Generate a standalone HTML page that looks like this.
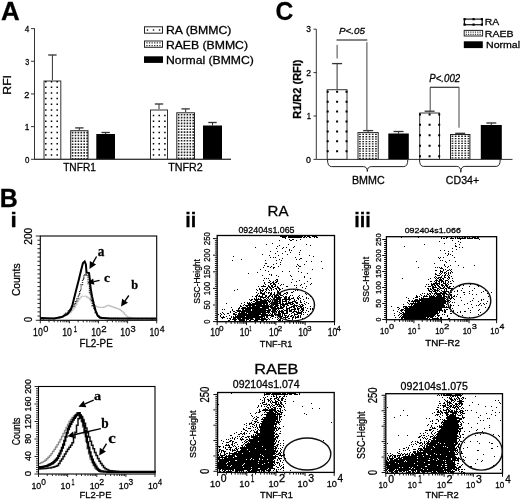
<!DOCTYPE html>
<html><head><meta charset="utf-8"><style>
html,body{margin:0;padding:0;background:#fff;}
svg{display:block;}
text{stroke:#000;stroke-width:0.28px;}
</style></head><body>
<svg width="520" height="499" viewBox="0 0 520 499">
<defs><filter id="soft" x="0" y="0" width="520" height="499" filterUnits="userSpaceOnUse"><feGaussianBlur stdDeviation="0.4"/></filter></defs>
<rect width="520" height="499" fill="#fff"/>
<g filter="url(#soft)">
<text x="0.95" y="19.90" font-family='"Liberation Sans", sans-serif' font-size="26.60" font-weight="bold" font-style="normal" textLength="18.73" lengthAdjust="spacingAndGlyphs" fill="#000" >A</text>
<line x1="34.5" y1="28.3" x2="34.5" y2="159.3" stroke="#333" stroke-width="1"/>
<line x1="34.3" y1="159.3" x2="231" y2="159.3" stroke="#333" stroke-width="1"/>
<line x1="31.0" y1="159.3" x2="34.5" y2="159.3" stroke="#333" stroke-width="1"/>
<line x1="31.0" y1="126.63000000000001" x2="34.5" y2="126.63000000000001" stroke="#333" stroke-width="1"/>
<line x1="31.0" y1="93.96000000000001" x2="34.5" y2="93.96000000000001" stroke="#333" stroke-width="1"/>
<line x1="31.0" y1="61.290000000000006" x2="34.5" y2="61.290000000000006" stroke="#333" stroke-width="1"/>
<line x1="31.0" y1="28.620000000000005" x2="34.5" y2="28.620000000000005" stroke="#333" stroke-width="1"/>
<text x="24.89" y="162.90" font-family='"Liberation Sans", sans-serif' font-size="8.72" font-weight="normal" font-style="normal" textLength="4.42" lengthAdjust="spacingAndGlyphs" fill="#000" >0</text>
<text x="24.76" y="130.23" font-family='"Liberation Sans", sans-serif' font-size="8.72" font-weight="normal" font-style="normal" textLength="4.64" lengthAdjust="spacingAndGlyphs" fill="#000" >1</text>
<text x="24.34" y="97.56" font-family='"Liberation Sans", sans-serif' font-size="8.72" font-weight="normal" font-style="normal" textLength="5.13" lengthAdjust="spacingAndGlyphs" fill="#000" >2</text>
<text x="25.33" y="64.89" font-family='"Liberation Sans", sans-serif' font-size="8.72" font-weight="normal" font-style="normal" textLength="3.99" lengthAdjust="spacingAndGlyphs" fill="#000" >3</text>
<text x="24.71" y="32.22" font-family='"Liberation Sans", sans-serif' font-size="8.72" font-weight="normal" font-style="normal" textLength="4.53" lengthAdjust="spacingAndGlyphs" fill="#000" >4</text>
<text transform="translate(10.50,94.71) rotate(-90)" x="0" y="0" font-family='"Liberation Sans", sans-serif' font-size="10.76" font-weight="normal" font-style="normal" textLength="19.74" lengthAdjust="spacingAndGlyphs" fill="#000">RFI</text>
<line x1="52.4" y1="55.0" x2="52.4" y2="80.5" stroke="#333" stroke-width="1"/>
<line x1="48.199999999999996" y1="55.0" x2="56.6" y2="55.0" stroke="#333" stroke-width="1.3"/>
<rect x="43.50" y="80.50" width="17.80" height="78.80" fill="#fff" stroke="none" stroke-width="1"/>
<rect x="44.00" y="81.00" width="16.80" height="78.30" fill="none" stroke="#333" stroke-width="1"/>
<path d="M45.05 154.35h1.5v1.5h-1.5zM45.05 148.70h1.5v1.5h-1.5zM45.05 143.05h1.5v1.5h-1.5zM45.05 137.40h1.5v1.5h-1.5zM45.05 131.75h1.5v1.5h-1.5zM45.05 126.10h1.5v1.5h-1.5zM45.05 120.45h1.5v1.5h-1.5zM45.05 114.80h1.5v1.5h-1.5zM45.05 109.15h1.5v1.5h-1.5zM45.05 103.50h1.5v1.5h-1.5zM45.05 97.85h1.5v1.5h-1.5zM45.05 92.20h1.5v1.5h-1.5zM45.05 86.55h1.5v1.5h-1.5zM45.05 80.90h1.5v1.5h-1.5zM50.75 154.35h1.5v1.5h-1.5zM50.75 148.70h1.5v1.5h-1.5zM50.75 143.05h1.5v1.5h-1.5zM50.75 137.40h1.5v1.5h-1.5zM50.75 131.75h1.5v1.5h-1.5zM50.75 126.10h1.5v1.5h-1.5zM50.75 120.45h1.5v1.5h-1.5zM50.75 114.80h1.5v1.5h-1.5zM50.75 109.15h1.5v1.5h-1.5zM50.75 103.50h1.5v1.5h-1.5zM50.75 97.85h1.5v1.5h-1.5zM50.75 92.20h1.5v1.5h-1.5zM50.75 86.55h1.5v1.5h-1.5zM50.75 80.90h1.5v1.5h-1.5zM56.45 154.35h1.5v1.5h-1.5zM56.45 148.70h1.5v1.5h-1.5zM56.45 143.05h1.5v1.5h-1.5zM56.45 137.40h1.5v1.5h-1.5zM56.45 131.75h1.5v1.5h-1.5zM56.45 126.10h1.5v1.5h-1.5zM56.45 120.45h1.5v1.5h-1.5zM56.45 114.80h1.5v1.5h-1.5zM56.45 109.15h1.5v1.5h-1.5zM56.45 103.50h1.5v1.5h-1.5zM56.45 97.85h1.5v1.5h-1.5zM56.45 92.20h1.5v1.5h-1.5zM56.45 86.55h1.5v1.5h-1.5zM56.45 80.90h1.5v1.5h-1.5z" fill="#000"/>
<line x1="79.35" y1="127.9" x2="79.35" y2="130.2" stroke="#333" stroke-width="1"/>
<line x1="75.14999999999999" y1="127.9" x2="83.55" y2="127.9" stroke="#333" stroke-width="1.3"/>
<rect x="70.20" y="130.20" width="18.30" height="29.10" fill="#fff" stroke="none" stroke-width="1"/>
<path d="M71.80 131.80h1.6v1.6h-1.6zM74.70 131.80h1.6v1.6h-1.6zM77.60 131.80h1.6v1.6h-1.6zM80.50 131.80h1.6v1.6h-1.6zM83.40 131.80h1.6v1.6h-1.6zM86.30 131.80h1.6v1.6h-1.6zM71.80 134.70h1.6v1.6h-1.6zM74.70 134.70h1.6v1.6h-1.6zM77.60 134.70h1.6v1.6h-1.6zM80.50 134.70h1.6v1.6h-1.6zM83.40 134.70h1.6v1.6h-1.6zM86.30 134.70h1.6v1.6h-1.6zM71.80 137.60h1.6v1.6h-1.6zM74.70 137.60h1.6v1.6h-1.6zM77.60 137.60h1.6v1.6h-1.6zM80.50 137.60h1.6v1.6h-1.6zM83.40 137.60h1.6v1.6h-1.6zM86.30 137.60h1.6v1.6h-1.6zM71.80 140.50h1.6v1.6h-1.6zM74.70 140.50h1.6v1.6h-1.6zM77.60 140.50h1.6v1.6h-1.6zM80.50 140.50h1.6v1.6h-1.6zM83.40 140.50h1.6v1.6h-1.6zM86.30 140.50h1.6v1.6h-1.6zM71.80 143.40h1.6v1.6h-1.6zM74.70 143.40h1.6v1.6h-1.6zM77.60 143.40h1.6v1.6h-1.6zM80.50 143.40h1.6v1.6h-1.6zM83.40 143.40h1.6v1.6h-1.6zM86.30 143.40h1.6v1.6h-1.6zM71.80 146.30h1.6v1.6h-1.6zM74.70 146.30h1.6v1.6h-1.6zM77.60 146.30h1.6v1.6h-1.6zM80.50 146.30h1.6v1.6h-1.6zM83.40 146.30h1.6v1.6h-1.6zM86.30 146.30h1.6v1.6h-1.6zM71.80 149.20h1.6v1.6h-1.6zM74.70 149.20h1.6v1.6h-1.6zM77.60 149.20h1.6v1.6h-1.6zM80.50 149.20h1.6v1.6h-1.6zM83.40 149.20h1.6v1.6h-1.6zM86.30 149.20h1.6v1.6h-1.6zM71.80 152.10h1.6v1.6h-1.6zM74.70 152.10h1.6v1.6h-1.6zM77.60 152.10h1.6v1.6h-1.6zM80.50 152.10h1.6v1.6h-1.6zM83.40 152.10h1.6v1.6h-1.6zM86.30 152.10h1.6v1.6h-1.6zM71.80 155.00h1.6v1.6h-1.6zM74.70 155.00h1.6v1.6h-1.6zM77.60 155.00h1.6v1.6h-1.6zM80.50 155.00h1.6v1.6h-1.6zM83.40 155.00h1.6v1.6h-1.6zM86.30 155.00h1.6v1.6h-1.6zM71.80 157.90h1.6v1.6h-1.6zM74.70 157.90h1.6v1.6h-1.6zM77.60 157.90h1.6v1.6h-1.6zM80.50 157.90h1.6v1.6h-1.6zM83.40 157.90h1.6v1.6h-1.6zM86.30 157.90h1.6v1.6h-1.6z" fill="#222"/>
<rect x="70.70" y="130.70" width="17.30" height="28.60" fill="none" stroke="#222" stroke-width="1"/>
<line x1="105.65" y1="132.5" x2="105.65" y2="134.0" stroke="#333" stroke-width="1"/>
<line x1="101.45" y1="132.5" x2="109.85000000000001" y2="132.5" stroke="#333" stroke-width="1.3"/>
<rect x="96.30" y="134.00" width="18.70" height="25.30" fill="#000" stroke="none" stroke-width="1"/>
<line x1="159.0" y1="104.0" x2="159.0" y2="109.5" stroke="#333" stroke-width="1"/>
<line x1="154.8" y1="104.0" x2="163.2" y2="104.0" stroke="#333" stroke-width="1.3"/>
<rect x="150.00" y="109.50" width="18.00" height="49.80" fill="#fff" stroke="none" stroke-width="1"/>
<rect x="150.50" y="110.00" width="17.00" height="49.30" fill="none" stroke="#333" stroke-width="1"/>
<path d="M152.75 154.35h1.5v1.5h-1.5zM152.75 148.70h1.5v1.5h-1.5zM152.75 143.05h1.5v1.5h-1.5zM152.75 137.40h1.5v1.5h-1.5zM152.75 131.75h1.5v1.5h-1.5zM152.75 126.10h1.5v1.5h-1.5zM152.75 120.45h1.5v1.5h-1.5zM152.75 114.80h1.5v1.5h-1.5zM158.45 154.35h1.5v1.5h-1.5zM158.45 148.70h1.5v1.5h-1.5zM158.45 143.05h1.5v1.5h-1.5zM158.45 137.40h1.5v1.5h-1.5zM158.45 131.75h1.5v1.5h-1.5zM158.45 126.10h1.5v1.5h-1.5zM158.45 120.45h1.5v1.5h-1.5zM158.45 114.80h1.5v1.5h-1.5zM164.15 154.35h1.5v1.5h-1.5zM164.15 148.70h1.5v1.5h-1.5zM164.15 143.05h1.5v1.5h-1.5zM164.15 137.40h1.5v1.5h-1.5zM164.15 131.75h1.5v1.5h-1.5zM164.15 126.10h1.5v1.5h-1.5zM164.15 120.45h1.5v1.5h-1.5zM164.15 114.80h1.5v1.5h-1.5z" fill="#000"/>
<line x1="185.65" y1="108.9" x2="185.65" y2="112.3" stroke="#333" stroke-width="1"/>
<line x1="181.45000000000002" y1="108.9" x2="189.85" y2="108.9" stroke="#333" stroke-width="1.3"/>
<rect x="176.30" y="112.30" width="18.70" height="47.00" fill="#fff" stroke="none" stroke-width="1"/>
<path d="M177.90 113.90h1.6v1.6h-1.6zM180.80 113.90h1.6v1.6h-1.6zM183.70 113.90h1.6v1.6h-1.6zM186.60 113.90h1.6v1.6h-1.6zM189.50 113.90h1.6v1.6h-1.6zM192.40 113.90h1.6v1.6h-1.6zM177.90 116.80h1.6v1.6h-1.6zM180.80 116.80h1.6v1.6h-1.6zM183.70 116.80h1.6v1.6h-1.6zM186.60 116.80h1.6v1.6h-1.6zM189.50 116.80h1.6v1.6h-1.6zM192.40 116.80h1.6v1.6h-1.6zM177.90 119.70h1.6v1.6h-1.6zM180.80 119.70h1.6v1.6h-1.6zM183.70 119.70h1.6v1.6h-1.6zM186.60 119.70h1.6v1.6h-1.6zM189.50 119.70h1.6v1.6h-1.6zM192.40 119.70h1.6v1.6h-1.6zM177.90 122.60h1.6v1.6h-1.6zM180.80 122.60h1.6v1.6h-1.6zM183.70 122.60h1.6v1.6h-1.6zM186.60 122.60h1.6v1.6h-1.6zM189.50 122.60h1.6v1.6h-1.6zM192.40 122.60h1.6v1.6h-1.6zM177.90 125.50h1.6v1.6h-1.6zM180.80 125.50h1.6v1.6h-1.6zM183.70 125.50h1.6v1.6h-1.6zM186.60 125.50h1.6v1.6h-1.6zM189.50 125.50h1.6v1.6h-1.6zM192.40 125.50h1.6v1.6h-1.6zM177.90 128.40h1.6v1.6h-1.6zM180.80 128.40h1.6v1.6h-1.6zM183.70 128.40h1.6v1.6h-1.6zM186.60 128.40h1.6v1.6h-1.6zM189.50 128.40h1.6v1.6h-1.6zM192.40 128.40h1.6v1.6h-1.6zM177.90 131.30h1.6v1.6h-1.6zM180.80 131.30h1.6v1.6h-1.6zM183.70 131.30h1.6v1.6h-1.6zM186.60 131.30h1.6v1.6h-1.6zM189.50 131.30h1.6v1.6h-1.6zM192.40 131.30h1.6v1.6h-1.6zM177.90 134.20h1.6v1.6h-1.6zM180.80 134.20h1.6v1.6h-1.6zM183.70 134.20h1.6v1.6h-1.6zM186.60 134.20h1.6v1.6h-1.6zM189.50 134.20h1.6v1.6h-1.6zM192.40 134.20h1.6v1.6h-1.6zM177.90 137.10h1.6v1.6h-1.6zM180.80 137.10h1.6v1.6h-1.6zM183.70 137.10h1.6v1.6h-1.6zM186.60 137.10h1.6v1.6h-1.6zM189.50 137.10h1.6v1.6h-1.6zM192.40 137.10h1.6v1.6h-1.6zM177.90 140.00h1.6v1.6h-1.6zM180.80 140.00h1.6v1.6h-1.6zM183.70 140.00h1.6v1.6h-1.6zM186.60 140.00h1.6v1.6h-1.6zM189.50 140.00h1.6v1.6h-1.6zM192.40 140.00h1.6v1.6h-1.6zM177.90 142.90h1.6v1.6h-1.6zM180.80 142.90h1.6v1.6h-1.6zM183.70 142.90h1.6v1.6h-1.6zM186.60 142.90h1.6v1.6h-1.6zM189.50 142.90h1.6v1.6h-1.6zM192.40 142.90h1.6v1.6h-1.6zM177.90 145.80h1.6v1.6h-1.6zM180.80 145.80h1.6v1.6h-1.6zM183.70 145.80h1.6v1.6h-1.6zM186.60 145.80h1.6v1.6h-1.6zM189.50 145.80h1.6v1.6h-1.6zM192.40 145.80h1.6v1.6h-1.6zM177.90 148.70h1.6v1.6h-1.6zM180.80 148.70h1.6v1.6h-1.6zM183.70 148.70h1.6v1.6h-1.6zM186.60 148.70h1.6v1.6h-1.6zM189.50 148.70h1.6v1.6h-1.6zM192.40 148.70h1.6v1.6h-1.6zM177.90 151.60h1.6v1.6h-1.6zM180.80 151.60h1.6v1.6h-1.6zM183.70 151.60h1.6v1.6h-1.6zM186.60 151.60h1.6v1.6h-1.6zM189.50 151.60h1.6v1.6h-1.6zM192.40 151.60h1.6v1.6h-1.6zM177.90 154.50h1.6v1.6h-1.6zM180.80 154.50h1.6v1.6h-1.6zM183.70 154.50h1.6v1.6h-1.6zM186.60 154.50h1.6v1.6h-1.6zM189.50 154.50h1.6v1.6h-1.6zM192.40 154.50h1.6v1.6h-1.6zM177.90 157.40h1.6v1.6h-1.6zM180.80 157.40h1.6v1.6h-1.6zM183.70 157.40h1.6v1.6h-1.6zM186.60 157.40h1.6v1.6h-1.6zM189.50 157.40h1.6v1.6h-1.6zM192.40 157.40h1.6v1.6h-1.6z" fill="#222"/>
<rect x="176.80" y="112.80" width="17.70" height="46.50" fill="none" stroke="#222" stroke-width="1"/>
<line x1="212.5" y1="122.5" x2="212.5" y2="125.5" stroke="#333" stroke-width="1"/>
<line x1="208.3" y1="122.5" x2="216.7" y2="122.5" stroke="#333" stroke-width="1.3"/>
<rect x="203.00" y="125.50" width="19.00" height="33.80" fill="#000" stroke="none" stroke-width="1"/>
<line x1="34.3" y1="159.3" x2="231" y2="159.3" stroke="#333" stroke-width="1"/>
<text x="63.17" y="171.20" font-family='"Liberation Sans", sans-serif' font-size="11.05" font-weight="normal" font-style="normal" textLength="32.72" lengthAdjust="spacingAndGlyphs" fill="#000" >TNFR1</text>
<text x="168.36" y="171.20" font-family='"Liberation Sans", sans-serif' font-size="11.05" font-weight="normal" font-style="normal" textLength="34.38" lengthAdjust="spacingAndGlyphs" fill="#000" >TNFR2</text>
<rect x="144.50" y="26.80" width="18.00" height="6.40" fill="#fff" stroke="#222" stroke-width="1"/>
<rect x="146.80" y="29.30" width="1.40" height="1.40" fill="#111" stroke="none" stroke-width="1"/>
<rect x="152.80" y="29.30" width="1.40" height="1.40" fill="#111" stroke="none" stroke-width="1"/>
<rect x="158.80" y="29.30" width="1.40" height="1.40" fill="#111" stroke="none" stroke-width="1"/>
<rect x="144.50" y="41.00" width="18.00" height="6.30" fill="#fff" stroke="#222" stroke-width="1"/>
<path d="M146.30 42.30h1.3v1.3h-1.3zM148.90 42.30h1.3v1.3h-1.3zM151.50 42.30h1.3v1.3h-1.3zM154.10 42.30h1.3v1.3h-1.3zM156.70 42.30h1.3v1.3h-1.3zM159.30 42.30h1.3v1.3h-1.3zM146.30 44.90h1.3v1.3h-1.3zM148.90 44.90h1.3v1.3h-1.3zM151.50 44.90h1.3v1.3h-1.3zM154.10 44.90h1.3v1.3h-1.3zM156.70 44.90h1.3v1.3h-1.3zM159.30 44.90h1.3v1.3h-1.3z" fill="#333"/>
<rect x="144.00" y="56.30" width="19.00" height="6.60" fill="#000" stroke="none" stroke-width="1"/>
<text x="165.90" y="34.40" font-family='"Liberation Sans", sans-serif' font-size="10.61" font-weight="normal" font-style="normal" textLength="65.45" lengthAdjust="spacingAndGlyphs" fill="#000" >RA (BMMC)</text>
<text x="165.90" y="48.80" font-family='"Liberation Sans", sans-serif' font-size="10.76" font-weight="normal" font-style="normal" textLength="82.06" lengthAdjust="spacingAndGlyphs" fill="#000" >RAEB (BMMC)</text>
<text x="165.90" y="64.30" font-family='"Liberation Sans", sans-serif' font-size="10.76" font-weight="normal" font-style="normal" textLength="87.95" lengthAdjust="spacingAndGlyphs" fill="#000" >Normal (BMMC)</text>
<text x="275.59" y="19.80" font-family='"Liberation Sans", sans-serif' font-size="26.16" font-weight="bold" font-style="normal" textLength="17.78" lengthAdjust="spacingAndGlyphs" fill="#000" >C</text>
<line x1="316.3" y1="29.2" x2="316.3" y2="159.4" stroke="#333" stroke-width="1"/>
<line x1="313.5" y1="159.4" x2="316.3" y2="159.4" stroke="#333" stroke-width="1"/>
<line x1="313.5" y1="116.0" x2="316.3" y2="116.0" stroke="#333" stroke-width="1"/>
<line x1="313.5" y1="72.60000000000001" x2="316.3" y2="72.60000000000001" stroke="#333" stroke-width="1"/>
<line x1="313.5" y1="29.200000000000017" x2="316.3" y2="29.200000000000017" stroke="#333" stroke-width="1"/>
<text x="306.06" y="162.60" font-family='"Liberation Sans", sans-serif' font-size="8.72" font-weight="normal" font-style="normal" textLength="4.89" lengthAdjust="spacingAndGlyphs" fill="#000" >0</text>
<text x="306.72" y="119.20" font-family='"Liberation Sans", sans-serif' font-size="8.72" font-weight="normal" font-style="normal" textLength="4.26" lengthAdjust="spacingAndGlyphs" fill="#000" >1</text>
<text x="306.16" y="75.80" font-family='"Liberation Sans", sans-serif' font-size="8.72" font-weight="normal" font-style="normal" textLength="4.88" lengthAdjust="spacingAndGlyphs" fill="#000" >2</text>
<text x="306.28" y="32.40" font-family='"Liberation Sans", sans-serif' font-size="8.72" font-weight="normal" font-style="normal" textLength="4.69" lengthAdjust="spacingAndGlyphs" fill="#000" >3</text>
<text transform="translate(300.80,118.74) rotate(-90)" x="0" y="0" font-family='"Liberation Sans", sans-serif' font-size="11.05" font-weight="bold" font-style="normal" textLength="59.28" lengthAdjust="spacingAndGlyphs" fill="#000">R1/R2 (RFI)</text>
<line x1="337.1" y1="63.6" x2="337.1" y2="89.2" stroke="#333" stroke-width="1"/>
<line x1="332.1" y1="63.6" x2="342.1" y2="63.6" stroke="#333" stroke-width="1.3"/>
<rect x="326.70" y="89.20" width="20.80" height="70.20" fill="#fff" stroke="none" stroke-width="1"/>
<rect x="327.20" y="89.70" width="19.80" height="69.70" fill="none" stroke="#333" stroke-width="1"/>
<path d="M326.70 150.30h2.0v2.0h-2.0zM326.70 140.37h2.0v2.0h-2.0zM326.70 130.44h2.0v2.0h-2.0zM326.70 120.51h2.0v2.0h-2.0zM326.70 110.58h2.0v2.0h-2.0zM326.70 100.65h2.0v2.0h-2.0zM326.70 90.72h2.0v2.0h-2.0zM336.10 150.30h2.0v2.0h-2.0zM336.10 140.37h2.0v2.0h-2.0zM336.10 130.44h2.0v2.0h-2.0zM336.10 120.51h2.0v2.0h-2.0zM336.10 110.58h2.0v2.0h-2.0zM336.10 100.65h2.0v2.0h-2.0zM336.10 90.72h2.0v2.0h-2.0zM345.50 150.30h2.0v2.0h-2.0zM345.50 140.37h2.0v2.0h-2.0zM345.50 130.44h2.0v2.0h-2.0zM345.50 120.51h2.0v2.0h-2.0zM345.50 110.58h2.0v2.0h-2.0zM345.50 100.65h2.0v2.0h-2.0zM345.50 90.72h2.0v2.0h-2.0z" fill="#000"/>
<line x1="368.1" y1="130.6" x2="368.1" y2="132.1" stroke="#333" stroke-width="1"/>
<line x1="363.1" y1="130.6" x2="373.1" y2="130.6" stroke="#333" stroke-width="1.3"/>
<rect x="357.50" y="132.10" width="21.20" height="27.30" fill="#fff" stroke="none" stroke-width="1"/>
<path d="M359.10 133.70h1.7v1.3h-1.7zM362.30 133.70h1.7v1.3h-1.7zM365.50 133.70h1.7v1.3h-1.7zM368.70 133.70h1.7v1.3h-1.7zM371.90 133.70h1.7v1.3h-1.7zM375.10 133.70h1.7v1.3h-1.7zM359.10 136.10h1.7v1.3h-1.7zM362.30 136.10h1.7v1.3h-1.7zM365.50 136.10h1.7v1.3h-1.7zM368.70 136.10h1.7v1.3h-1.7zM371.90 136.10h1.7v1.3h-1.7zM375.10 136.10h1.7v1.3h-1.7zM359.10 138.50h1.7v1.3h-1.7zM362.30 138.50h1.7v1.3h-1.7zM365.50 138.50h1.7v1.3h-1.7zM368.70 138.50h1.7v1.3h-1.7zM371.90 138.50h1.7v1.3h-1.7zM375.10 138.50h1.7v1.3h-1.7zM359.10 140.90h1.7v1.3h-1.7zM362.30 140.90h1.7v1.3h-1.7zM365.50 140.90h1.7v1.3h-1.7zM368.70 140.90h1.7v1.3h-1.7zM371.90 140.90h1.7v1.3h-1.7zM375.10 140.90h1.7v1.3h-1.7zM359.10 143.30h1.7v1.3h-1.7zM362.30 143.30h1.7v1.3h-1.7zM365.50 143.30h1.7v1.3h-1.7zM368.70 143.30h1.7v1.3h-1.7zM371.90 143.30h1.7v1.3h-1.7zM375.10 143.30h1.7v1.3h-1.7zM359.10 145.70h1.7v1.3h-1.7zM362.30 145.70h1.7v1.3h-1.7zM365.50 145.70h1.7v1.3h-1.7zM368.70 145.70h1.7v1.3h-1.7zM371.90 145.70h1.7v1.3h-1.7zM375.10 145.70h1.7v1.3h-1.7zM359.10 148.10h1.7v1.3h-1.7zM362.30 148.10h1.7v1.3h-1.7zM365.50 148.10h1.7v1.3h-1.7zM368.70 148.10h1.7v1.3h-1.7zM371.90 148.10h1.7v1.3h-1.7zM375.10 148.10h1.7v1.3h-1.7zM359.10 150.50h1.7v1.3h-1.7zM362.30 150.50h1.7v1.3h-1.7zM365.50 150.50h1.7v1.3h-1.7zM368.70 150.50h1.7v1.3h-1.7zM371.90 150.50h1.7v1.3h-1.7zM375.10 150.50h1.7v1.3h-1.7zM359.10 152.90h1.7v1.3h-1.7zM362.30 152.90h1.7v1.3h-1.7zM365.50 152.90h1.7v1.3h-1.7zM368.70 152.90h1.7v1.3h-1.7zM371.90 152.90h1.7v1.3h-1.7zM375.10 152.90h1.7v1.3h-1.7zM359.10 155.30h1.7v1.3h-1.7zM362.30 155.30h1.7v1.3h-1.7zM365.50 155.30h1.7v1.3h-1.7zM368.70 155.30h1.7v1.3h-1.7zM371.90 155.30h1.7v1.3h-1.7zM375.10 155.30h1.7v1.3h-1.7zM359.10 157.70h1.7v1.3h-1.7zM362.30 157.70h1.7v1.3h-1.7zM365.50 157.70h1.7v1.3h-1.7zM368.70 157.70h1.7v1.3h-1.7zM371.90 157.70h1.7v1.3h-1.7zM375.10 157.70h1.7v1.3h-1.7z" fill="#222"/>
<rect x="358.00" y="132.60" width="20.20" height="26.80" fill="none" stroke="#222" stroke-width="1"/>
<line x1="398.55" y1="131.5" x2="398.55" y2="133.5" stroke="#333" stroke-width="1"/>
<line x1="393.55" y1="131.5" x2="403.55" y2="131.5" stroke="#333" stroke-width="1.3"/>
<rect x="388.30" y="133.50" width="20.50" height="25.90" fill="#000" stroke="none" stroke-width="1"/>
<line x1="429.6" y1="111.2" x2="429.6" y2="112.5" stroke="#333" stroke-width="1"/>
<line x1="424.6" y1="111.2" x2="434.6" y2="111.2" stroke="#333" stroke-width="1.3"/>
<rect x="419.20" y="112.50" width="20.80" height="46.90" fill="#fff" stroke="none" stroke-width="1"/>
<rect x="419.70" y="113.00" width="19.80" height="46.40" fill="none" stroke="#333" stroke-width="1"/>
<path d="M419.00 155.20h2.0v2.0h-2.0zM419.00 144.75h2.0v2.0h-2.0zM419.00 134.30h2.0v2.0h-2.0zM419.00 123.85h2.0v2.0h-2.0zM419.00 113.40h2.0v2.0h-2.0zM428.60 155.20h2.0v2.0h-2.0zM428.60 144.75h2.0v2.0h-2.0zM428.60 134.30h2.0v2.0h-2.0zM428.60 123.85h2.0v2.0h-2.0zM428.60 113.40h2.0v2.0h-2.0zM438.20 155.20h2.0v2.0h-2.0zM438.20 144.75h2.0v2.0h-2.0zM438.20 134.30h2.0v2.0h-2.0zM438.20 123.85h2.0v2.0h-2.0zM438.20 113.40h2.0v2.0h-2.0z" fill="#000"/>
<line x1="460.2" y1="133.3" x2="460.2" y2="134.0" stroke="#333" stroke-width="1"/>
<line x1="455.2" y1="133.3" x2="465.2" y2="133.3" stroke="#333" stroke-width="1.3"/>
<rect x="450.00" y="134.00" width="20.40" height="25.40" fill="#fff" stroke="none" stroke-width="1"/>
<path d="M451.60 135.60h1.7v1.3h-1.7zM454.80 135.60h1.7v1.3h-1.7zM458.00 135.60h1.7v1.3h-1.7zM461.20 135.60h1.7v1.3h-1.7zM464.40 135.60h1.7v1.3h-1.7zM467.60 135.60h1.7v1.3h-1.7zM451.60 138.00h1.7v1.3h-1.7zM454.80 138.00h1.7v1.3h-1.7zM458.00 138.00h1.7v1.3h-1.7zM461.20 138.00h1.7v1.3h-1.7zM464.40 138.00h1.7v1.3h-1.7zM467.60 138.00h1.7v1.3h-1.7zM451.60 140.40h1.7v1.3h-1.7zM454.80 140.40h1.7v1.3h-1.7zM458.00 140.40h1.7v1.3h-1.7zM461.20 140.40h1.7v1.3h-1.7zM464.40 140.40h1.7v1.3h-1.7zM467.60 140.40h1.7v1.3h-1.7zM451.60 142.80h1.7v1.3h-1.7zM454.80 142.80h1.7v1.3h-1.7zM458.00 142.80h1.7v1.3h-1.7zM461.20 142.80h1.7v1.3h-1.7zM464.40 142.80h1.7v1.3h-1.7zM467.60 142.80h1.7v1.3h-1.7zM451.60 145.20h1.7v1.3h-1.7zM454.80 145.20h1.7v1.3h-1.7zM458.00 145.20h1.7v1.3h-1.7zM461.20 145.20h1.7v1.3h-1.7zM464.40 145.20h1.7v1.3h-1.7zM467.60 145.20h1.7v1.3h-1.7zM451.60 147.60h1.7v1.3h-1.7zM454.80 147.60h1.7v1.3h-1.7zM458.00 147.60h1.7v1.3h-1.7zM461.20 147.60h1.7v1.3h-1.7zM464.40 147.60h1.7v1.3h-1.7zM467.60 147.60h1.7v1.3h-1.7zM451.60 150.00h1.7v1.3h-1.7zM454.80 150.00h1.7v1.3h-1.7zM458.00 150.00h1.7v1.3h-1.7zM461.20 150.00h1.7v1.3h-1.7zM464.40 150.00h1.7v1.3h-1.7zM467.60 150.00h1.7v1.3h-1.7zM451.60 152.40h1.7v1.3h-1.7zM454.80 152.40h1.7v1.3h-1.7zM458.00 152.40h1.7v1.3h-1.7zM461.20 152.40h1.7v1.3h-1.7zM464.40 152.40h1.7v1.3h-1.7zM467.60 152.40h1.7v1.3h-1.7zM451.60 154.80h1.7v1.3h-1.7zM454.80 154.80h1.7v1.3h-1.7zM458.00 154.80h1.7v1.3h-1.7zM461.20 154.80h1.7v1.3h-1.7zM464.40 154.80h1.7v1.3h-1.7zM467.60 154.80h1.7v1.3h-1.7zM451.60 157.20h1.7v1.3h-1.7zM454.80 157.20h1.7v1.3h-1.7zM458.00 157.20h1.7v1.3h-1.7zM461.20 157.20h1.7v1.3h-1.7zM464.40 157.20h1.7v1.3h-1.7zM467.60 157.20h1.7v1.3h-1.7z" fill="#222"/>
<rect x="450.50" y="134.50" width="19.40" height="24.90" fill="none" stroke="#222" stroke-width="1"/>
<line x1="491.3" y1="123.0" x2="491.3" y2="125.0" stroke="#333" stroke-width="1"/>
<line x1="486.3" y1="123.0" x2="496.3" y2="123.0" stroke="#333" stroke-width="1.3"/>
<rect x="480.80" y="125.00" width="21.00" height="34.40" fill="#000" stroke="none" stroke-width="1"/>
<line x1="316.3" y1="159.4" x2="512.5" y2="159.4" stroke="#333" stroke-width="1"/>
<line x1="336.5" y1="40.0" x2="367.3" y2="40.0" stroke="#333" stroke-width="1.2"/>
<line x1="337.1" y1="44.8" x2="337.1" y2="58.5" stroke="#444" stroke-width="1"/>
<line x1="366.9" y1="42.2" x2="366.9" y2="130.6" stroke="#444" stroke-width="1"/>
<line x1="430.0" y1="87.3" x2="459.2" y2="87.3" stroke="#333" stroke-width="1.2"/>
<line x1="430.2" y1="87.3" x2="430.2" y2="111.2" stroke="#444" stroke-width="1"/>
<line x1="459.0" y1="87.3" x2="459.0" y2="127.7" stroke="#444" stroke-width="1"/>
<text x="339.00" y="34.10" font-family='"Liberation Sans", sans-serif' font-size="9.74" font-weight="normal" font-style="italic" textLength="25.88" lengthAdjust="spacingAndGlyphs" fill="#000" >P&lt;.05</text>
<text x="429.30" y="82.40" font-family='"Liberation Sans", sans-serif' font-size="10.17" font-weight="normal" font-style="italic" textLength="30.84" lengthAdjust="spacingAndGlyphs" fill="#000" >P&lt;.002</text>
<path d="M327.5 159.4 Q327.5 166.6 331.5 166.6 L363.3 166.6 Q367.3 166.6 367.3 171.5 Q367.3 166.6 371.3 166.6 L403.8 166.6 Q407.8 166.6 407.8 159.4" fill="none" stroke="#222" stroke-width="1"/>
<path d="M419.5 159.4 Q419.5 166.4 423.5 166.4 L456.8 166.4 Q460.8 166.4 460.8 172.3 Q460.8 166.4 464.8 166.4 L496.2 166.4 Q500.2 166.4 500.2 159.4" fill="none" stroke="#222" stroke-width="1"/>
<text x="351.92" y="184.00" font-family='"Liberation Sans", sans-serif' font-size="11.05" font-weight="normal" font-style="normal" textLength="32.79" lengthAdjust="spacingAndGlyphs" fill="#000" >BMMC</text>
<text x="445.86" y="183.90" font-family='"Liberation Sans", sans-serif' font-size="11.05" font-weight="normal" font-style="normal" textLength="33.26" lengthAdjust="spacingAndGlyphs" fill="#000" >CD34+</text>
<rect x="464.40" y="19.10" width="17.80" height="5.60" fill="#fff" stroke="#111" stroke-width="1.2"/>
<rect x="463.50" y="18.10" width="2.20" height="2.20" fill="#000" stroke="none" stroke-width="1"/>
<rect x="463.50" y="23.50" width="2.20" height="2.20" fill="#000" stroke="none" stroke-width="1"/>
<rect x="472.50" y="18.10" width="2.20" height="2.20" fill="#000" stroke="none" stroke-width="1"/>
<rect x="472.50" y="23.50" width="2.20" height="2.20" fill="#000" stroke="none" stroke-width="1"/>
<rect x="480.80" y="18.10" width="2.20" height="2.20" fill="#000" stroke="none" stroke-width="1"/>
<rect x="480.80" y="23.50" width="2.20" height="2.20" fill="#000" stroke="none" stroke-width="1"/>
<rect x="464.20" y="30.40" width="18.40" height="5.60" fill="#fff" stroke="#222" stroke-width="1"/>
<path d="M465.70 31.60h1.2v1.2h-1.2zM468.00 31.60h1.2v1.2h-1.2zM470.30 31.60h1.2v1.2h-1.2zM472.60 31.60h1.2v1.2h-1.2zM474.90 31.60h1.2v1.2h-1.2zM477.20 31.60h1.2v1.2h-1.2zM479.50 31.60h1.2v1.2h-1.2zM465.70 33.70h1.2v1.2h-1.2zM468.00 33.70h1.2v1.2h-1.2zM470.30 33.70h1.2v1.2h-1.2zM472.60 33.70h1.2v1.2h-1.2zM474.90 33.70h1.2v1.2h-1.2zM477.20 33.70h1.2v1.2h-1.2zM479.50 33.70h1.2v1.2h-1.2z" fill="#444"/>
<rect x="463.80" y="41.30" width="19.00" height="6.80" fill="#000" stroke="none" stroke-width="1"/>
<text x="484.85" y="25.30" font-family='"Liberation Sans", sans-serif' font-size="9.74" font-weight="normal" font-style="normal" textLength="14.48" lengthAdjust="spacingAndGlyphs" fill="#000" >RA</text>
<text x="484.83" y="36.60" font-family='"Liberation Sans", sans-serif' font-size="9.59" font-weight="normal" font-style="normal" textLength="28.72" lengthAdjust="spacingAndGlyphs" fill="#000" >RAEB</text>
<text x="486.03" y="48.10" font-family='"Liberation Sans", sans-serif' font-size="9.88" font-weight="normal" font-style="normal" textLength="34.07" lengthAdjust="spacingAndGlyphs" fill="#000" >Normal</text>
<text x="-0.27" y="206.50" font-family='"Liberation Sans", sans-serif' font-size="24.86" font-weight="bold" font-style="normal" textLength="18.00" lengthAdjust="spacingAndGlyphs" fill="#000" >B</text>
<text x="10.42" y="227.40" font-family='"Liberation Sans", sans-serif' font-size="20.01" font-weight="bold" font-style="normal" textLength="6.28" lengthAdjust="spacingAndGlyphs" fill="#000" >i</text>
<text x="185.32" y="227.20" font-family='"Liberation Sans", sans-serif' font-size="19.46" font-weight="bold" font-style="normal" textLength="10.98" lengthAdjust="spacingAndGlyphs" fill="#000" >ii</text>
<text x="354.21" y="227.40" font-family='"Liberation Sans", sans-serif' font-size="19.73" font-weight="bold" font-style="normal" textLength="16.60" lengthAdjust="spacingAndGlyphs" fill="#000" >iii</text>
<text x="267.56" y="215.80" font-family='"Liberation Sans", sans-serif' font-size="15.12" font-weight="normal" font-style="normal" textLength="20.97" lengthAdjust="spacingAndGlyphs" fill="#000" >RA</text>
<text x="254.17" y="373.80" font-family='"Liberation Sans", sans-serif' font-size="15.26" font-weight="normal" font-style="normal" textLength="44.29" lengthAdjust="spacingAndGlyphs" fill="#000" >RAEB</text>
<text x="238.45" y="232.80" font-family='"Liberation Sans", sans-serif' font-size="8.72" font-weight="normal" font-style="normal" textLength="56.12" lengthAdjust="spacingAndGlyphs" fill="#000" >092404s1.065</text>
<text x="404.65" y="232.70" font-family='"Liberation Sans", sans-serif' font-size="7.85" font-weight="normal" font-style="normal" textLength="56.24" lengthAdjust="spacingAndGlyphs" fill="#000" >092404s1.066</text>
<text x="232.79" y="388.30" font-family='"Liberation Sans", sans-serif' font-size="10.03" font-weight="normal" font-style="normal" textLength="66.72" lengthAdjust="spacingAndGlyphs" fill="#000" >092104s1.074</text>
<text x="400.58" y="389.80" font-family='"Liberation Sans", sans-serif' font-size="10.61" font-weight="normal" font-style="normal" textLength="67.36" lengthAdjust="spacingAndGlyphs" fill="#000" >092104s1.075</text>
<path d="M40.50 318.97 L41.90 318.97 L41.90 318.90 L43.30 318.90 L43.30 318.83 L44.70 318.83 L44.70 318.76 L46.10 318.76 L46.10 318.70 L47.50 318.70 L47.50 318.63 L48.90 318.63 L48.90 318.56 L50.30 318.56 L50.30 318.49 L51.70 318.49 L51.70 318.43 L53.10 318.43 L53.10 318.36 L54.50 318.36 L54.50 318.25 L55.90 318.25 L55.90 317.89 L57.30 317.89 L57.30 317.53 L58.70 317.53 L58.70 317.17 L60.10 317.17 L60.10 316.81 L61.50 316.81 L61.50 316.41 L62.90 316.41 L62.90 315.80 L64.30 315.80 L64.30 315.19 L65.70 315.19 L65.70 314.57 L67.10 314.57 L67.10 313.96 L68.50 313.96 L68.50 313.35 L69.90 313.35 L69.90 312.28 L71.30 312.28 L71.30 310.60 L72.70 310.60 L72.70 308.92 L74.10 308.92 L74.10 307.24 L75.50 307.24 L75.50 304.60 L76.90 304.60 L76.90 301.80 L78.30 301.80 L78.30 299.74 L79.70 299.74 L79.70 297.97 L81.10 297.97 L81.10 296.20 L82.50 296.20 L82.50 296.20 L83.90 296.20 L83.90 296.20 L85.30 296.20 L85.30 296.20 L86.70 296.20 L86.70 297.13 L88.10 297.13 L88.10 298.22 L89.50 298.22 L89.50 299.64 L90.90 299.64 L90.90 301.90 L92.30 301.90 L92.30 304.16 L93.70 304.16 L93.70 305.31 L95.10 305.31 L95.10 306.03 L96.50 306.03 L96.50 306.74 L97.90 306.74 L97.90 307.10 L99.30 307.10 L99.30 307.25 L100.70 307.25 L100.70 307.40 L102.10 307.40 L102.10 307.55 L103.50 307.55 L103.50 307.15 L104.90 307.15 L104.90 306.45 L106.30 306.45 L106.30 305.75 L107.70 305.75 L107.70 305.31 L109.10 305.31 L109.10 305.84 L110.50 305.84 L110.50 306.36 L111.90 306.36 L111.90 306.89 L113.30 306.89 L113.30 307.41 L114.70 307.41 L114.70 307.89 L116.10 307.89 L116.10 308.35 L117.50 308.35 L117.50 308.81 L118.90 308.81 L118.90 309.36 L120.30 309.36 L120.30 310.44 L121.70 310.44 L121.70 311.53 L123.10 311.53 L123.10 312.89 L124.50 312.89 L124.50 314.44 L125.90 314.44 L125.90 316.00 L127.30 316.00 L127.30 317.11 L128.70 317.11 L128.70 317.41 L130.10 317.41 L130.10 317.70 L131.50 317.70 L131.50 318.00 L132.90 318.00 L132.90 318.30 L134.30 318.30 L134.30 318.60 L135.70 318.60 L135.70 318.63 L137.10 318.63 L137.10 318.65 L138.50 318.65 L138.50 318.68 L139.90 318.68 L139.90 318.71 L141.30 318.71 L141.30 318.73 L142.70 318.73 L142.70 318.76 L144.10 318.76 L144.10 318.79 L145.50 318.79 L145.50 318.81 L146.90 318.81 L146.90 318.84 L148.30 318.84 L148.30 318.87 L149.70 318.87 L149.70 318.89 L151.10 318.89 L151.10 318.92 L152.50 318.92 L152.50 318.95 L153.90 318.95 L153.90 318.97 L155.30 318.97 L155.30 319.00 L156.70 319.00" fill="none" stroke="#c0c0c0" stroke-width="1.1"/>
<path d="M40.50 318.98 L41.90 318.98 L41.90 318.93 L43.30 318.93 L43.30 318.88 L44.70 318.88 L44.70 318.83 L46.10 318.83 L46.10 318.78 L47.50 318.78 L47.50 318.73 L48.90 318.73 L48.90 318.69 L50.30 318.69 L50.30 318.64 L51.70 318.64 L51.70 318.59 L53.10 318.59 L53.10 318.54 L54.50 318.54 L54.50 318.46 L55.90 318.46 L55.90 318.16 L57.30 318.16 L57.30 317.86 L58.70 317.86 L58.70 317.56 L60.10 317.56 L60.10 317.26 L61.50 317.26 L61.50 316.82 L62.90 316.82 L62.90 315.60 L64.30 315.60 L64.30 314.38 L65.70 314.38 L65.70 313.16 L67.10 313.16 L67.10 311.95 L68.50 311.95 L68.50 310.75 L69.90 310.75 L69.90 309.54 L71.30 309.54 L71.30 307.88 L72.70 307.88 L72.70 306.04 L74.10 306.04 L74.10 304.19 L75.50 304.19 L75.50 301.74 L76.90 301.74 L76.90 298.84 L78.30 298.84 L78.30 294.98 L79.70 294.98 L79.70 290.40 L81.10 290.40 L81.10 284.60 L82.50 284.60 L82.50 279.28 L83.90 279.28 L83.90 274.81 L85.30 274.81 L85.30 273.89 L86.70 273.89 L86.70 275.83 L88.10 275.83 L88.10 284.40 L89.50 284.40 L89.50 293.73 L90.90 293.73 L90.90 300.40 L92.30 300.40 L92.30 306.00 L93.70 306.00 L93.70 309.36 L95.10 309.36 L95.10 312.48 L96.50 312.48 L96.50 314.72 L97.90 314.72 L97.90 316.30 L99.30 316.30 L99.30 317.00 L100.70 317.00 L100.70 317.70 L102.10 317.70 L102.10 318.05 L103.50 318.05 L103.50 318.14 L104.90 318.14 L104.90 318.23 L106.30 318.23 L106.30 318.31 L107.70 318.31 L107.70 318.40 L109.10 318.40 L109.10 318.49 L110.50 318.49 L110.50 318.51 L111.90 318.51 L111.90 318.53 L113.30 318.53 L113.30 318.54 L114.70 318.54 L114.70 318.56 L116.10 318.56 L116.10 318.57 L117.50 318.57 L117.50 318.59 L118.90 318.59 L118.90 318.60 L120.30 318.60 L120.30 318.62 L121.70 318.62 L121.70 318.63 L123.10 318.63 L123.10 318.65 L124.50 318.65 L124.50 318.67 L125.90 318.67 L125.90 318.68 L127.30 318.68 L127.30 318.70 L128.70 318.70 L128.70 318.71 L130.10 318.71 L130.10 318.73 L131.50 318.73 L131.50 318.74 L132.90 318.74 L132.90 318.76 L134.30 318.76 L134.30 318.77 L135.70 318.77 L135.70 318.79 L137.10 318.79 L137.10 318.80 L138.50 318.80 L138.50 318.82 L139.90 318.82 L139.90 318.83 L141.30 318.83 L141.30 318.85 L142.70 318.85 L142.70 318.86 L144.10 318.86 L144.10 318.88 L145.50 318.88 L145.50 318.89 L146.90 318.89 L146.90 318.91 L148.30 318.91 L148.30 318.92 L149.70 318.92 L149.70 318.94 L151.10 318.94 L151.10 318.95 L152.50 318.95 L152.50 318.97 L153.90 318.97 L153.90 318.98 L155.30 318.98 L155.30 319.00 L156.70 319.00" fill="none" stroke="#333" stroke-width="1.4" stroke-dasharray="1.1 0.9"/>
<path d="M40.50 318.00 L54.40 318.50 L61.60 317.10 L67.40 314.20 L70.30 310.60 L72.50 304.80 L74.60 296.20 L76.80 287.50 L79.00 278.90 L81.10 270.20 L83.00 263.00 L84.70 261.50 L85.90 264.40 L86.50 272.40 L89.00 273.10 L89.80 278.90 L90.50 287.50 L92.00 296.20 L93.70 303.40 L95.60 310.60 L97.70 315.70 L100.00 317.80 L110.00 318.50 L156.00 318.50" fill="none" stroke="#000" stroke-width="2" stroke-linejoin="miter"/>
<rect x="40.3" y="236.0" width="116.40" height="84.30" fill="none" stroke="#000" stroke-width="1.1"/>
<path d="M40.30 320.3v3.0M49.06 320.3v2.0M54.18 320.3v2.0M57.82 320.3v2.0M60.64 320.3v2.0M62.94 320.3v2.0M64.89 320.3v2.0M66.58 320.3v2.0M68.07 320.3v2.0M69.40 320.3v3.0M78.16 320.3v2.0M83.28 320.3v2.0M86.92 320.3v2.0M89.74 320.3v2.0M92.04 320.3v2.0M93.99 320.3v2.0M95.68 320.3v2.0M97.17 320.3v2.0M98.50 320.3v3.0M107.26 320.3v2.0M112.38 320.3v2.0M116.02 320.3v2.0M118.84 320.3v2.0M121.14 320.3v2.0M123.09 320.3v2.0M124.78 320.3v2.0M126.27 320.3v2.0M127.60 320.3v3.0M156.70 320.3v3.0M40.30 320.30h-4.5M40.30 316.09h-2.8M40.30 311.87h-2.8M40.30 307.66h-2.8M40.30 303.44h-2.8M40.30 299.23h-2.8M40.30 295.01h-2.8M40.30 290.80h-2.8M40.30 286.58h-2.8M40.30 282.37h-2.8M40.30 278.15h-2.8M40.30 273.94h-2.8M40.30 269.72h-2.8M40.30 265.50h-2.8M40.30 261.29h-2.8M40.30 257.07h-2.8M40.30 252.86h-2.8M40.30 248.65h-2.8M40.30 244.43h-2.8M40.30 240.22h-2.8M40.30 236.00h-4.5" stroke="#111" stroke-width="0.9" fill="none"/>
<text transform="translate(32.30,244.71) rotate(-90)" x="0" y="0" font-family='"Liberation Sans", sans-serif' font-size="10.17" font-weight="normal" font-style="normal" textLength="16.80" lengthAdjust="spacingAndGlyphs" fill="#000">200</text>
<text transform="translate(32.30,322.06) rotate(-90)" x="0" y="0" font-family='"Liberation Sans", sans-serif' font-size="10.17" font-weight="normal" font-style="normal" textLength="5.12" lengthAdjust="spacingAndGlyphs" fill="#000">0</text>
<text transform="translate(20.20,296.12) rotate(-90)" x="0" y="0" font-family='"Liberation Sans", sans-serif' font-size="10.32" font-weight="normal" font-style="normal" textLength="32.70" lengthAdjust="spacingAndGlyphs" fill="#000">Counts</text>
<text x="33.04" y="336.40" font-family='"Liberation Sans", sans-serif' font-size="10.17" font-weight="normal" font-style="normal" textLength="9.71" lengthAdjust="spacingAndGlyphs" fill="#000" >10</text>
<text x="43.24" y="331.50" font-family='"Liberation Sans", sans-serif' font-size="9.88" font-weight="normal" font-style="normal" textLength="5.12" lengthAdjust="spacingAndGlyphs" fill="#000" >0</text>
<text x="62.14" y="336.40" font-family='"Liberation Sans", sans-serif' font-size="10.17" font-weight="normal" font-style="normal" textLength="9.71" lengthAdjust="spacingAndGlyphs" fill="#000" >10</text>
<text x="73.86" y="331.50" font-family='"Liberation Sans", sans-serif' font-size="9.88" font-weight="normal" font-style="normal" textLength="3.22" lengthAdjust="spacingAndGlyphs" fill="#000" >1</text>
<text x="91.24" y="336.40" font-family='"Liberation Sans", sans-serif' font-size="10.17" font-weight="normal" font-style="normal" textLength="9.71" lengthAdjust="spacingAndGlyphs" fill="#000" >10</text>
<text x="101.31" y="331.50" font-family='"Liberation Sans", sans-serif' font-size="9.88" font-weight="normal" font-style="normal" textLength="5.37" lengthAdjust="spacingAndGlyphs" fill="#000" >2</text>
<text x="120.34" y="336.40" font-family='"Liberation Sans", sans-serif' font-size="10.17" font-weight="normal" font-style="normal" textLength="9.71" lengthAdjust="spacingAndGlyphs" fill="#000" >10</text>
<text x="130.55" y="331.50" font-family='"Liberation Sans", sans-serif' font-size="9.88" font-weight="normal" font-style="normal" textLength="5.16" lengthAdjust="spacingAndGlyphs" fill="#000" >3</text>
<text x="149.44" y="336.40" font-family='"Liberation Sans", sans-serif' font-size="10.17" font-weight="normal" font-style="normal" textLength="9.71" lengthAdjust="spacingAndGlyphs" fill="#000" >10</text>
<text x="159.80" y="331.50" font-family='"Liberation Sans", sans-serif' font-size="9.88" font-weight="normal" font-style="normal" textLength="4.86" lengthAdjust="spacingAndGlyphs" fill="#000" >4</text>
<text x="79.39" y="346.60" font-family='"Liberation Sans", sans-serif' font-size="10.17" font-weight="normal" font-style="normal" textLength="33.33" lengthAdjust="spacingAndGlyphs" fill="#000" >FL2-PE</text>
<text x="97.67" y="256.16" font-family='"Liberation Serif", serif' font-size="13.99" font-weight="bold" font-style="normal" textLength="6.63" lengthAdjust="spacingAndGlyphs" fill="#000" >a</text>
<text x="104.14" y="281.78" font-family='"Liberation Serif", serif' font-size="13.11" font-weight="bold" font-style="normal" textLength="6.00" lengthAdjust="spacingAndGlyphs" fill="#000" >c</text>
<text x="131.14" y="288.57" font-family='"Liberation Serif", serif' font-size="12.93" font-weight="bold" font-style="normal" textLength="6.86" lengthAdjust="spacingAndGlyphs" fill="#000" >b</text>
<line x1="96.60" y1="256.50" x2="92.98" y2="262.83" stroke="#000" stroke-width="1.4"/>
<path d="M89.50 268.90L89.85 261.04L96.10 264.61z" fill="#000"/>
<line x1="99.60" y1="280.40" x2="93.78" y2="281.57" stroke="#000" stroke-width="1.4"/>
<path d="M87.70 282.80L93.14 278.44L94.41 284.71z" fill="#000"/>
<line x1="128.80" y1="295.50" x2="125.05" y2="300.79" stroke="#000" stroke-width="1.4"/>
<path d="M121.00 306.50L122.11 298.71L127.99 302.87z" fill="#000"/>
<path d="M39.00 463.62 L40.50 463.62 L40.50 462.88 L42.00 462.88 L42.00 462.12 L43.50 462.12 L43.50 461.38 L45.00 461.38 L45.00 460.25 L46.50 460.25 L46.50 458.75 L48.00 458.75 L48.00 457.25 L49.50 457.25 L49.50 455.65 L51.00 455.65 L51.00 453.55 L52.50 453.55 L52.50 451.45 L54.00 451.45 L54.00 449.35 L55.50 449.35 L55.50 447.00 L57.00 447.00 L57.00 444.60 L58.50 444.60 L58.50 442.20 L60.00 442.20 L60.00 439.50 L61.50 439.50 L61.50 436.50 L63.00 436.50 L63.00 433.50 L64.50 433.50 L64.50 430.50 L66.00 430.50 L66.00 427.50 L67.50 427.50 L67.50 424.50 L69.00 424.50 L69.00 421.50 L70.50 421.50 L70.50 419.33 L72.00 419.33 L72.00 417.33 L73.50 417.33 L73.50 415.96 L75.00 415.96 L75.00 414.71 L76.50 414.71 L76.50 414.19 L78.00 414.19 L78.00 415.12 L79.50 415.12 L79.50 417.62 L81.00 417.62 L81.00 421.38 L82.50 421.38 L82.50 427.00 L84.00 427.00 L84.00 433.75 L85.50 433.75 L85.50 441.25 L87.00 441.25 L87.00 448.75 L88.50 448.75 L88.50 454.17 L90.00 454.17 L90.00 459.17 L91.50 459.17 L91.50 462.50 L93.00 462.50 L93.00 465.50 L94.50 465.50 L94.50 468.18 L96.00 468.18 L96.00 469.23 L97.50 469.23 L97.50 470.27 L99.00 470.27 L99.00 471.32 L100.50 471.32 L100.50 471.51 L102.00 471.51 L102.00 471.52 L103.50 471.52 L103.50 471.54 L105.00 471.54 L105.00 471.55 L106.50 471.55 L106.50 471.57 L108.00 471.57 L108.00 471.58 L109.50 471.58 L109.50 471.59 L111.00 471.59 L111.00 471.61 L112.50 471.61 L112.50 471.62 L114.00 471.62 L114.00 471.63 L115.50 471.63 L115.50 471.65 L117.00 471.65 L117.00 471.66 L118.50 471.66 L118.50 471.68 L120.00 471.68 L120.00 471.69 L121.50 471.69 L121.50 471.70 L123.00 471.70 L123.00 471.72 L124.50 471.72 L124.50 471.73 L126.00 471.73 L126.00 471.74 L127.50 471.74 L127.50 471.76 L129.00 471.76 L129.00 471.77 L130.50 471.77 L130.50 471.78 L132.00 471.78 L132.00 471.80 L133.50 471.80 L133.50 471.81 L135.00 471.81 L135.00 471.82 L136.50 471.82 L136.50 471.84 L138.00 471.84 L138.00 471.85 L139.50 471.85 L139.50 471.87 L141.00 471.87 L141.00 471.88 L142.50 471.88 L142.50 471.89 L144.00 471.89 L144.00 471.91 L145.50 471.91 L145.50 471.92 L147.00 471.92 L147.00 471.93 L148.50 471.93 L148.50 471.95 L150.00 471.95 L150.00 471.96 L151.50 471.96 L151.50 471.98 L153.00 471.98 L153.00 471.99 L154.50 471.99 L154.50 472.00 L156.00 472.00" fill="none" stroke="#888" stroke-width="1.3"/>
<path d="M39.00 468.93 L40.50 468.93 L40.50 468.80 L42.00 468.80 L42.00 468.66 L43.50 468.66 L43.50 468.52 L45.00 468.52 L45.00 468.39 L46.50 468.39 L46.50 468.25 L48.00 468.25 L48.00 468.11 L49.50 468.11 L49.50 467.93 L51.00 467.93 L51.00 467.53 L52.50 467.53 L52.50 467.13 L54.00 467.13 L54.00 466.73 L55.50 466.73 L55.50 466.33 L57.00 466.33 L57.00 465.62 L58.50 465.62 L58.50 463.38 L60.00 463.38 L60.00 461.12 L61.50 461.12 L61.50 458.88 L63.00 458.88 L63.00 456.58 L64.50 456.58 L64.50 454.08 L66.00 454.08 L66.00 451.58 L67.50 451.58 L67.50 449.17 L69.00 449.17 L69.00 447.17 L70.50 447.17 L70.50 445.17 L72.00 445.17 L72.00 442.68 L73.50 442.68 L73.50 437.79 L75.00 437.79 L75.00 432.20 L76.50 432.20 L76.50 425.25 L78.00 425.25 L78.00 418.87 L79.50 418.87 L79.50 415.50 L81.00 415.50 L81.00 416.50 L82.50 416.50 L82.50 419.50 L84.00 419.50 L84.00 423.37 L85.50 423.37 L85.50 428.11 L87.00 428.11 L87.00 432.84 L88.50 432.84 L88.50 437.11 L90.00 437.11 L90.00 441.37 L91.50 441.37 L91.50 445.28 L93.00 445.28 L93.00 448.83 L94.50 448.83 L94.50 452.38 L96.00 452.38 L96.00 455.44 L97.50 455.44 L97.50 458.48 L99.00 458.48 L99.00 461.15 L100.50 461.15 L100.50 463.45 L102.00 463.45 L102.00 465.53 L103.50 465.53 L103.50 467.38 L105.00 467.38 L105.00 468.68 L106.50 468.68 L106.50 469.45 L108.00 469.45 L108.00 470.22 L109.50 470.22 L109.50 470.66 L111.00 470.66 L111.00 470.79 L112.50 470.79 L112.50 470.92 L114.00 470.92 L114.00 471.05 L115.50 471.05 L115.50 471.18 L117.00 471.18 L117.00 471.31 L118.50 471.31 L118.50 471.44 L120.00 471.44 L120.00 471.50 L121.50 471.50 L121.50 471.50 L123.00 471.50 L123.00 471.50 L124.50 471.50 L124.50 471.50 L126.00 471.50 L126.00 471.50 L127.50 471.50 L127.50 471.50 L129.00 471.50 L129.00 471.50 L130.50 471.50 L130.50 471.50 L132.00 471.50 L132.00 471.50 L133.50 471.50 L133.50 471.50 L135.00 471.50 L135.00 471.50 L136.50 471.50 L136.50 471.50 L138.00 471.50 L138.00 471.50 L139.50 471.50 L139.50 471.50 L141.00 471.50 L141.00 471.50 L142.50 471.50 L142.50 471.50 L144.00 471.50 L144.00 471.50 L145.50 471.50 L145.50 471.50 L147.00 471.50 L147.00 471.50 L148.50 471.50 L148.50 471.50 L150.00 471.50 L150.00 471.50 L151.50 471.50 L151.50 471.50 L153.00 471.50 L153.00 471.50 L154.50 471.50 L154.50 471.50 L156.00 471.50" fill="none" stroke="#111" stroke-width="1.5"/>
<path d="M39.00 467.39 L40.20 467.39 L40.20 467.16 L41.40 467.16 L41.40 466.94 L42.60 466.94 L42.60 466.71 L43.80 466.71 L43.80 466.49 L45.00 466.49 L45.00 466.26 L46.20 466.26 L46.20 466.04 L47.40 466.04 L47.40 465.50 L48.60 465.50 L48.60 464.90 L49.80 464.90 L49.80 464.30 L51.00 464.30 L51.00 463.70 L52.20 463.70 L52.20 463.10 L53.40 463.10 L53.40 462.00 L54.60 462.00 L54.60 460.80 L55.80 460.80 L55.80 459.60 L57.00 459.60 L57.00 458.30 L58.20 458.30 L58.20 455.90 L59.40 455.90 L59.40 453.50 L60.60 453.50 L60.60 450.75 L61.80 450.75 L61.80 447.75 L63.00 447.75 L63.00 444.67 L64.20 444.67 L64.20 440.76 L65.40 440.76 L65.40 436.82 L66.60 436.82 L66.60 432.73 L67.80 432.73 L67.80 429.10 L69.00 429.10 L69.00 426.38 L70.20 426.38 L70.20 423.92 L71.40 423.92 L71.40 421.80 L72.60 421.80 L72.60 419.68 L73.80 419.68 L73.80 418.00 L75.00 418.00 L75.00 416.38 L76.20 416.38 L76.20 414.90 L77.40 414.90 L77.40 413.42 L78.60 413.42 L78.60 413.17 L79.80 413.17 L79.80 415.40 L81.00 415.40 L81.00 417.63 L82.20 417.63 L82.20 421.41 L83.40 421.41 L83.40 425.50 L84.60 425.50 L84.60 430.98 L85.80 430.98 L85.80 436.48 L87.00 436.48 L87.00 442.20 L88.20 442.20 L88.20 447.67 L89.40 447.67 L89.40 452.37 L90.60 452.37 L90.60 456.50 L91.80 456.50 L91.80 459.50 L93.00 459.50 L93.00 462.50 L94.20 462.50 L94.20 464.62 L95.40 464.62 L95.40 466.57 L96.60 466.57 L96.60 468.51 L97.80 468.51 L97.80 469.69 L99.00 469.69 L99.00 470.61 L100.20 470.61 L100.20 471.32 L101.40 471.32 L101.40 471.41 L102.60 471.41 L102.60 471.50 L103.80 471.50 L103.80 471.59 L105.00 471.59 L105.00 471.68 L106.20 471.68 L106.20 471.76 L107.40 471.76 L107.40 471.85 L108.60 471.85 L108.60 471.94 L109.80 471.94 L109.80 472.00 L111.00 472.00 L111.00 472.00 L112.20 472.00 L112.20 472.00 L113.40 472.00 L113.40 472.00 L114.60 472.00 L114.60 472.00 L115.80 472.00 L115.80 472.00 L117.00 472.00 L117.00 472.00 L118.20 472.00 L118.20 472.00 L119.40 472.00 L119.40 472.00 L120.60 472.00 L120.60 472.00 L121.80 472.00 L121.80 472.00 L123.00 472.00 L123.00 472.00 L124.20 472.00 L124.20 472.00 L125.40 472.00 L125.40 472.00 L126.60 472.00 L126.60 472.00 L127.80 472.00 L127.80 472.00 L129.00 472.00 L129.00 472.00 L130.20 472.00 L130.20 472.00 L131.40 472.00 L131.40 472.00 L132.60 472.00 L132.60 472.00 L133.80 472.00 L133.80 472.00 L135.00 472.00 L135.00 472.00 L136.20 472.00 L136.20 472.00 L137.40 472.00 L137.40 472.00 L138.60 472.00 L138.60 472.00 L139.80 472.00 L139.80 472.00 L141.00 472.00 L141.00 472.00 L142.20 472.00 L142.20 472.00 L143.40 472.00 L143.40 472.00 L144.60 472.00 L144.60 472.00 L145.80 472.00 L145.80 472.00 L147.00 472.00 L147.00 472.00 L148.20 472.00 L148.20 472.00 L149.40 472.00 L149.40 472.00 L150.60 472.00 L150.60 472.00 L151.80 472.00 L151.80 472.00 L153.00 472.00 L153.00 472.00 L154.20 472.00 L154.20 472.00 L155.40 472.00" fill="none" stroke="#000" stroke-width="2.1"/>
<rect x="38.5" y="386.5" width="116.50" height="87.50" fill="none" stroke="#000" stroke-width="1.1"/>
<path d="M38.50 474.0v3.0M47.27 474.0v2.0M52.40 474.0v2.0M56.03 474.0v2.0M58.86 474.0v2.0M61.16 474.0v2.0M63.11 474.0v2.0M64.80 474.0v2.0M66.29 474.0v2.0M67.62 474.0v3.0M76.39 474.0v2.0M81.52 474.0v2.0M85.16 474.0v2.0M87.98 474.0v2.0M90.29 474.0v2.0M92.24 474.0v2.0M93.93 474.0v2.0M95.42 474.0v2.0M96.75 474.0v3.0M105.52 474.0v2.0M110.65 474.0v2.0M114.28 474.0v2.0M117.11 474.0v2.0M119.41 474.0v2.0M121.36 474.0v2.0M123.05 474.0v2.0M124.54 474.0v2.0M125.88 474.0v3.0M155.00 474.0v3.0M38.50 474.00h-4.0M38.50 471.81h-2.5M38.50 469.62h-2.5M38.50 467.44h-2.5M38.50 465.25h-2.5M38.50 463.06h-2.5M38.50 460.88h-2.5M38.50 458.69h-2.5M38.50 456.50h-4.0M38.50 454.31h-2.5M38.50 452.12h-2.5M38.50 449.94h-2.5M38.50 447.75h-2.5M38.50 445.56h-2.5M38.50 443.38h-2.5M38.50 441.19h-2.5M38.50 439.00h-4.0M38.50 436.81h-2.5M38.50 434.62h-2.5M38.50 432.44h-2.5M38.50 430.25h-2.5M38.50 428.06h-2.5M38.50 425.88h-2.5M38.50 423.69h-2.5M38.50 421.50h-4.0M38.50 419.31h-2.5M38.50 417.12h-2.5M38.50 414.94h-2.5M38.50 412.75h-2.5M38.50 410.56h-2.5M38.50 408.38h-2.5M38.50 406.19h-2.5M38.50 404.00h-4.0M38.50 401.81h-2.5M38.50 399.62h-2.5M38.50 397.44h-2.5M38.50 395.25h-2.5M38.50 393.06h-2.5M38.50 390.88h-2.5M38.50 388.69h-2.5M38.50 386.50h-4.0" stroke="#111" stroke-width="0.9" fill="none"/>
<text transform="translate(31.00,476.18) rotate(-90)" x="0" y="0" font-family='"Liberation Sans", sans-serif' font-size="9.88" font-weight="normal" font-style="normal" textLength="5.35" lengthAdjust="spacingAndGlyphs" fill="#000">0</text>
<text transform="translate(31.00,460.90) rotate(-90)" x="0" y="0" font-family='"Liberation Sans", sans-serif' font-size="9.88" font-weight="normal" font-style="normal" textLength="9.74" lengthAdjust="spacingAndGlyphs" fill="#000">40</text>
<text transform="translate(31.00,443.69) rotate(-90)" x="0" y="0" font-family='"Liberation Sans", sans-serif' font-size="9.88" font-weight="normal" font-style="normal" textLength="9.94" lengthAdjust="spacingAndGlyphs" fill="#000">80</text>
<text transform="translate(31.00,428.88) rotate(-90)" x="0" y="0" font-family='"Liberation Sans", sans-serif' font-size="9.88" font-weight="normal" font-style="normal" textLength="14.82" lengthAdjust="spacingAndGlyphs" fill="#000">120</text>
<text transform="translate(31.00,411.48) rotate(-90)" x="0" y="0" font-family='"Liberation Sans", sans-serif' font-size="9.88" font-weight="normal" font-style="normal" textLength="14.82" lengthAdjust="spacingAndGlyphs" fill="#000">160</text>
<text transform="translate(31.00,393.84) rotate(-90)" x="0" y="0" font-family='"Liberation Sans", sans-serif' font-size="9.88" font-weight="normal" font-style="normal" textLength="14.58" lengthAdjust="spacingAndGlyphs" fill="#000">200</text>
<text transform="translate(19.80,445.35) rotate(-90)" x="0" y="0" font-family='"Liberation Sans", sans-serif' font-size="10.47" font-weight="normal" font-style="normal" textLength="27.86" lengthAdjust="spacingAndGlyphs" fill="#000">Counts</text>
<text x="31.43" y="489.10" font-family='"Liberation Sans", sans-serif' font-size="9.74" font-weight="normal" font-style="normal" textLength="9.82" lengthAdjust="spacingAndGlyphs" fill="#000" >10</text>
<text x="41.17" y="485.10" font-family='"Liberation Sans", sans-serif' font-size="9.74" font-weight="normal" font-style="normal" textLength="4.65" lengthAdjust="spacingAndGlyphs" fill="#000" >0</text>
<text x="60.55" y="489.10" font-family='"Liberation Sans", sans-serif' font-size="9.74" font-weight="normal" font-style="normal" textLength="9.82" lengthAdjust="spacingAndGlyphs" fill="#000" >10</text>
<text x="71.52" y="485.10" font-family='"Liberation Sans", sans-serif' font-size="9.74" font-weight="normal" font-style="normal" textLength="2.97" lengthAdjust="spacingAndGlyphs" fill="#000" >1</text>
<text x="89.68" y="489.10" font-family='"Liberation Sans", sans-serif' font-size="9.74" font-weight="normal" font-style="normal" textLength="9.82" lengthAdjust="spacingAndGlyphs" fill="#000" >10</text>
<text x="99.31" y="485.10" font-family='"Liberation Sans", sans-serif' font-size="9.74" font-weight="normal" font-style="normal" textLength="4.88" lengthAdjust="spacingAndGlyphs" fill="#000" >2</text>
<text x="118.80" y="489.10" font-family='"Liberation Sans", sans-serif' font-size="9.74" font-weight="normal" font-style="normal" textLength="9.82" lengthAdjust="spacingAndGlyphs" fill="#000" >10</text>
<text x="128.55" y="485.10" font-family='"Liberation Sans", sans-serif' font-size="9.74" font-weight="normal" font-style="normal" textLength="4.69" lengthAdjust="spacingAndGlyphs" fill="#000" >3</text>
<text x="147.93" y="489.10" font-family='"Liberation Sans", sans-serif' font-size="9.74" font-weight="normal" font-style="normal" textLength="9.82" lengthAdjust="spacingAndGlyphs" fill="#000" >10</text>
<text x="157.82" y="485.10" font-family='"Liberation Sans", sans-serif' font-size="9.74" font-weight="normal" font-style="normal" textLength="4.41" lengthAdjust="spacingAndGlyphs" fill="#000" >4</text>
<text x="79.42" y="497.90" font-family='"Liberation Sans", sans-serif' font-size="9.74" font-weight="normal" font-style="normal" textLength="32.08" lengthAdjust="spacingAndGlyphs" fill="#000" >FL2-PE</text>
<text x="94.04" y="400.07" font-family='"Liberation Serif", serif' font-size="13.36" font-weight="bold" font-style="normal" textLength="7.07" lengthAdjust="spacingAndGlyphs" fill="#000" >a</text>
<text x="101.23" y="428.16" font-family='"Liberation Serif", serif' font-size="14.07" font-weight="bold" font-style="normal" textLength="7.41" lengthAdjust="spacingAndGlyphs" fill="#000" >b</text>
<text x="108.32" y="442.67" font-family='"Liberation Serif", serif' font-size="14.15" font-weight="bold" font-style="normal" textLength="7.50" lengthAdjust="spacingAndGlyphs" fill="#000" >c</text>
<line x1="93.70" y1="400.20" x2="84.94" y2="403.95" stroke="#000" stroke-width="1.4"/>
<path d="M78.50 406.70L83.52 400.64L86.35 407.26z" fill="#000"/>
<line x1="100.90" y1="428.60" x2="73.84" y2="434.76" stroke="#000" stroke-width="1.4"/>
<path d="M67.50 436.20L73.11 431.54L74.57 437.98z" fill="#000"/>
<line x1="106.50" y1="443.60" x2="102.90" y2="449.60" stroke="#000" stroke-width="1.4"/>
<path d="M99.30 455.60L99.81 447.75L105.99 451.45z" fill="#000"/>
<text transform="translate(210.40,245.19) rotate(-90)" x="0" y="0" font-family='"Liberation Sans", sans-serif' font-size="9.59" font-weight="normal" font-style="normal" textLength="13.10" lengthAdjust="spacingAndGlyphs" fill="#000">250</text>
<text transform="translate(210.40,261.79) rotate(-90)" x="0" y="0" font-family='"Liberation Sans", sans-serif' font-size="9.59" font-weight="normal" font-style="normal" textLength="13.10" lengthAdjust="spacingAndGlyphs" fill="#000">200</text>
<text transform="translate(210.40,278.61) rotate(-90)" x="0" y="0" font-family='"Liberation Sans", sans-serif' font-size="9.59" font-weight="normal" font-style="normal" textLength="13.32" lengthAdjust="spacingAndGlyphs" fill="#000">150</text>
<text transform="translate(210.40,295.21) rotate(-90)" x="0" y="0" font-family='"Liberation Sans", sans-serif' font-size="9.59" font-weight="normal" font-style="normal" textLength="13.32" lengthAdjust="spacingAndGlyphs" fill="#000">100</text>
<text transform="translate(210.40,309.45) rotate(-90)" x="0" y="0" font-family='"Liberation Sans", sans-serif' font-size="9.59" font-weight="normal" font-style="normal" textLength="8.90" lengthAdjust="spacingAndGlyphs" fill="#000">50</text>
<text transform="translate(210.40,323.64) rotate(-90)" x="0" y="0" font-family='"Liberation Sans", sans-serif' font-size="9.59" font-weight="normal" font-style="normal" textLength="4.09" lengthAdjust="spacingAndGlyphs" fill="#000">0</text>
<text transform="translate(199.80,303.68) rotate(-90)" x="0" y="0" font-family='"Liberation Sans", sans-serif' font-size="8.14" font-weight="normal" font-style="normal" textLength="44.54" lengthAdjust="spacingAndGlyphs" fill="#000">SSC-Height</text>
<text x="210.34" y="336.20" font-family='"Liberation Sans", sans-serif' font-size="10.76" font-weight="normal" font-style="normal" textLength="9.59" lengthAdjust="spacingAndGlyphs" fill="#000" >10</text>
<text x="219.08" y="330.80" font-family='"Liberation Sans", sans-serif' font-size="7.85" font-weight="normal" font-style="normal" textLength="4.54" lengthAdjust="spacingAndGlyphs" fill="#000" >0</text>
<text x="239.67" y="336.20" font-family='"Liberation Sans", sans-serif' font-size="10.76" font-weight="normal" font-style="normal" textLength="9.59" lengthAdjust="spacingAndGlyphs" fill="#000" >10</text>
<text x="249.22" y="330.80" font-family='"Liberation Sans", sans-serif' font-size="7.85" font-weight="normal" font-style="normal" textLength="2.19" lengthAdjust="spacingAndGlyphs" fill="#000" >1</text>
<text x="268.99" y="336.20" font-family='"Liberation Sans", sans-serif' font-size="10.76" font-weight="normal" font-style="normal" textLength="9.59" lengthAdjust="spacingAndGlyphs" fill="#000" >10</text>
<text x="277.62" y="330.80" font-family='"Liberation Sans", sans-serif' font-size="7.85" font-weight="normal" font-style="normal" textLength="4.76" lengthAdjust="spacingAndGlyphs" fill="#000" >2</text>
<text x="298.32" y="336.20" font-family='"Liberation Sans", sans-serif' font-size="10.76" font-weight="normal" font-style="normal" textLength="9.59" lengthAdjust="spacingAndGlyphs" fill="#000" >10</text>
<text x="307.06" y="330.80" font-family='"Liberation Sans", sans-serif' font-size="7.85" font-weight="normal" font-style="normal" textLength="4.57" lengthAdjust="spacingAndGlyphs" fill="#000" >3</text>
<text x="327.64" y="336.20" font-family='"Liberation Sans", sans-serif' font-size="10.76" font-weight="normal" font-style="normal" textLength="9.59" lengthAdjust="spacingAndGlyphs" fill="#000" >10</text>
<text x="336.52" y="330.80" font-family='"Liberation Sans", sans-serif' font-size="7.85" font-weight="normal" font-style="normal" textLength="4.30" lengthAdjust="spacingAndGlyphs" fill="#000" >4</text>
<text x="259.79" y="346.50" font-family='"Liberation Sans", sans-serif' font-size="9.45" font-weight="normal" font-style="normal" textLength="32.65" lengthAdjust="spacingAndGlyphs" fill="#000" >TNF-R1</text>
<text transform="translate(380.60,245.88) rotate(-90)" x="0" y="0" font-family='"Liberation Sans", sans-serif' font-size="7.85" font-weight="normal" font-style="normal" textLength="12.68" lengthAdjust="spacingAndGlyphs" fill="#000">250</text>
<text transform="translate(380.60,261.88) rotate(-90)" x="0" y="0" font-family='"Liberation Sans", sans-serif' font-size="7.85" font-weight="normal" font-style="normal" textLength="12.68" lengthAdjust="spacingAndGlyphs" fill="#000">200</text>
<text transform="translate(380.60,278.09) rotate(-90)" x="0" y="0" font-family='"Liberation Sans", sans-serif' font-size="7.85" font-weight="normal" font-style="normal" textLength="12.89" lengthAdjust="spacingAndGlyphs" fill="#000">150</text>
<text transform="translate(380.60,294.09) rotate(-90)" x="0" y="0" font-family='"Liberation Sans", sans-serif' font-size="7.85" font-weight="normal" font-style="normal" textLength="12.89" lengthAdjust="spacingAndGlyphs" fill="#000">100</text>
<text transform="translate(380.60,307.81) rotate(-90)" x="0" y="0" font-family='"Liberation Sans", sans-serif' font-size="7.85" font-weight="normal" font-style="normal" textLength="8.61" lengthAdjust="spacingAndGlyphs" fill="#000">50</text>
<text transform="translate(380.60,321.48) rotate(-90)" x="0" y="0" font-family='"Liberation Sans", sans-serif' font-size="7.85" font-weight="normal" font-style="normal" textLength="3.96" lengthAdjust="spacingAndGlyphs" fill="#000">0</text>
<text transform="translate(369.00,302.39) rotate(-90)" x="0" y="0" font-family='"Liberation Sans", sans-serif' font-size="8.14" font-weight="normal" font-style="normal" textLength="45.45" lengthAdjust="spacingAndGlyphs" fill="#000">SSC-Height</text>
<text x="380.10" y="333.50" font-family='"Liberation Sans", sans-serif' font-size="8.87" font-weight="normal" font-style="normal" textLength="8.70" lengthAdjust="spacingAndGlyphs" fill="#000" >10</text>
<text x="389.14" y="328.80" font-family='"Liberation Sans", sans-serif' font-size="7.85" font-weight="normal" font-style="normal" textLength="5.12" lengthAdjust="spacingAndGlyphs" fill="#000" >0</text>
<text x="407.65" y="333.50" font-family='"Liberation Sans", sans-serif' font-size="8.87" font-weight="normal" font-style="normal" textLength="8.70" lengthAdjust="spacingAndGlyphs" fill="#000" >10</text>
<text x="417.46" y="328.80" font-family='"Liberation Sans", sans-serif' font-size="7.85" font-weight="normal" font-style="normal" textLength="2.84" lengthAdjust="spacingAndGlyphs" fill="#000" >1</text>
<text x="435.20" y="333.50" font-family='"Liberation Sans", sans-serif' font-size="8.87" font-weight="normal" font-style="normal" textLength="8.70" lengthAdjust="spacingAndGlyphs" fill="#000" >10</text>
<text x="444.11" y="328.80" font-family='"Liberation Sans", sans-serif' font-size="7.85" font-weight="normal" font-style="normal" textLength="5.37" lengthAdjust="spacingAndGlyphs" fill="#000" >2</text>
<text x="462.75" y="333.50" font-family='"Liberation Sans", sans-serif' font-size="8.87" font-weight="normal" font-style="normal" textLength="8.70" lengthAdjust="spacingAndGlyphs" fill="#000" >10</text>
<text x="471.80" y="328.80" font-family='"Liberation Sans", sans-serif' font-size="7.85" font-weight="normal" font-style="normal" textLength="5.16" lengthAdjust="spacingAndGlyphs" fill="#000" >3</text>
<text x="490.30" y="333.50" font-family='"Liberation Sans", sans-serif' font-size="8.87" font-weight="normal" font-style="normal" textLength="8.70" lengthAdjust="spacingAndGlyphs" fill="#000" >10</text>
<text x="499.50" y="328.80" font-family='"Liberation Sans", sans-serif' font-size="7.85" font-weight="normal" font-style="normal" textLength="4.86" lengthAdjust="spacingAndGlyphs" fill="#000" >4</text>
<text x="425.38" y="345.80" font-family='"Liberation Sans", sans-serif' font-size="8.29" font-weight="normal" font-style="normal" textLength="34.51" lengthAdjust="spacingAndGlyphs" fill="#000" >TNF-R2</text>
<text transform="translate(208.60,402.48) rotate(-90)" x="0" y="0" font-family='"Liberation Sans", sans-serif' font-size="12.21" font-weight="normal" font-style="normal" textLength="15.85" lengthAdjust="spacingAndGlyphs" fill="#000">250</text>
<text transform="translate(208.60,473.77) rotate(-90)" x="0" y="0" font-family='"Liberation Sans", sans-serif' font-size="12.21" font-weight="normal" font-style="normal" textLength="4.94" lengthAdjust="spacingAndGlyphs" fill="#000">0</text>
<text transform="translate(196.40,457.91) rotate(-90)" x="0" y="0" font-family='"Liberation Sans", sans-serif' font-size="9.88" font-weight="normal" font-style="normal" textLength="47.37" lengthAdjust="spacingAndGlyphs" fill="#000">SSC-Height</text>
<text x="210.10" y="486.80" font-family='"Liberation Sans", sans-serif' font-size="9.45" font-weight="normal" font-style="normal" textLength="10.26" lengthAdjust="spacingAndGlyphs" fill="#000" >10</text>
<text x="220.79" y="481.90" font-family='"Liberation Sans", sans-serif' font-size="10.03" font-weight="normal" font-style="normal" textLength="5.82" lengthAdjust="spacingAndGlyphs" fill="#000" >0</text>
<text x="239.25" y="486.80" font-family='"Liberation Sans", sans-serif' font-size="9.45" font-weight="normal" font-style="normal" textLength="10.26" lengthAdjust="spacingAndGlyphs" fill="#000" >10</text>
<text x="250.66" y="481.90" font-family='"Liberation Sans", sans-serif' font-size="10.03" font-weight="normal" font-style="normal" textLength="3.61" lengthAdjust="spacingAndGlyphs" fill="#000" >1</text>
<text x="268.40" y="486.80" font-family='"Liberation Sans", sans-serif' font-size="9.45" font-weight="normal" font-style="normal" textLength="10.26" lengthAdjust="spacingAndGlyphs" fill="#000" >10</text>
<text x="278.95" y="481.90" font-family='"Liberation Sans", sans-serif' font-size="10.03" font-weight="normal" font-style="normal" textLength="6.10" lengthAdjust="spacingAndGlyphs" fill="#000" >2</text>
<text x="297.55" y="486.80" font-family='"Liberation Sans", sans-serif' font-size="9.45" font-weight="normal" font-style="normal" textLength="10.26" lengthAdjust="spacingAndGlyphs" fill="#000" >10</text>
<text x="308.25" y="481.90" font-family='"Liberation Sans", sans-serif' font-size="10.03" font-weight="normal" font-style="normal" textLength="5.87" lengthAdjust="spacingAndGlyphs" fill="#000" >3</text>
<text x="326.70" y="486.80" font-family='"Liberation Sans", sans-serif' font-size="9.45" font-weight="normal" font-style="normal" textLength="10.26" lengthAdjust="spacingAndGlyphs" fill="#000" >10</text>
<text x="337.57" y="481.90" font-family='"Liberation Sans", sans-serif' font-size="10.03" font-weight="normal" font-style="normal" textLength="5.52" lengthAdjust="spacingAndGlyphs" fill="#000" >4</text>
<text x="259.99" y="497.50" font-family='"Liberation Sans", sans-serif' font-size="8.72" font-weight="normal" font-style="normal" textLength="32.96" lengthAdjust="spacingAndGlyphs" fill="#000" >TNF-R1</text>
<text transform="translate(376.80,403.28) rotate(-90)" x="0" y="0" font-family='"Liberation Sans", sans-serif' font-size="12.06" font-weight="normal" font-style="normal" textLength="15.85" lengthAdjust="spacingAndGlyphs" fill="#000">250</text>
<text transform="translate(376.80,474.97) rotate(-90)" x="0" y="0" font-family='"Liberation Sans", sans-serif' font-size="12.06" font-weight="normal" font-style="normal" textLength="4.94" lengthAdjust="spacingAndGlyphs" fill="#000">0</text>
<text transform="translate(364.60,458.91) rotate(-90)" x="0" y="0" font-family='"Liberation Sans", sans-serif' font-size="10.32" font-weight="normal" font-style="normal" textLength="47.37" lengthAdjust="spacingAndGlyphs" fill="#000">SSC-Height</text>
<text x="378.58" y="488.20" font-family='"Liberation Sans", sans-serif' font-size="9.88" font-weight="normal" font-style="normal" textLength="9.04" lengthAdjust="spacingAndGlyphs" fill="#000" >10</text>
<text x="388.39" y="483.30" font-family='"Liberation Sans", sans-serif' font-size="10.32" font-weight="normal" font-style="normal" textLength="5.82" lengthAdjust="spacingAndGlyphs" fill="#000" >0</text>
<text x="407.76" y="488.20" font-family='"Liberation Sans", sans-serif' font-size="9.88" font-weight="normal" font-style="normal" textLength="9.04" lengthAdjust="spacingAndGlyphs" fill="#000" >10</text>
<text x="418.28" y="483.30" font-family='"Liberation Sans", sans-serif' font-size="10.32" font-weight="normal" font-style="normal" textLength="3.61" lengthAdjust="spacingAndGlyphs" fill="#000" >1</text>
<text x="436.93" y="488.20" font-family='"Liberation Sans", sans-serif' font-size="9.88" font-weight="normal" font-style="normal" textLength="9.04" lengthAdjust="spacingAndGlyphs" fill="#000" >10</text>
<text x="446.60" y="483.30" font-family='"Liberation Sans", sans-serif' font-size="10.32" font-weight="normal" font-style="normal" textLength="6.10" lengthAdjust="spacingAndGlyphs" fill="#000" >2</text>
<text x="466.11" y="488.20" font-family='"Liberation Sans", sans-serif' font-size="9.88" font-weight="normal" font-style="normal" textLength="9.04" lengthAdjust="spacingAndGlyphs" fill="#000" >10</text>
<text x="475.92" y="483.30" font-family='"Liberation Sans", sans-serif' font-size="10.32" font-weight="normal" font-style="normal" textLength="5.87" lengthAdjust="spacingAndGlyphs" fill="#000" >3</text>
<text x="495.28" y="488.20" font-family='"Liberation Sans", sans-serif' font-size="9.88" font-weight="normal" font-style="normal" textLength="9.04" lengthAdjust="spacingAndGlyphs" fill="#000" >10</text>
<text x="505.27" y="483.30" font-family='"Liberation Sans", sans-serif' font-size="10.32" font-weight="normal" font-style="normal" textLength="5.52" lengthAdjust="spacingAndGlyphs" fill="#000" >4</text>
<text x="425.59" y="498.00" font-family='"Liberation Sans", sans-serif' font-size="8.72" font-weight="normal" font-style="normal" textLength="33.08" lengthAdjust="spacingAndGlyphs" fill="#000" >TNF-R2</text>
<path d="M280 236h7v1h-7zM288 236h15v1h-15zM304 236h2v1h-2zM307 236h3v1h-3zM312 236h5v1h-5zM282 237h4v1h-4zM288 237h14v1h-14zM303 237h2v1h-2zM306 237h1v1h-1zM309 237h2v1h-2zM314 237h1v1h-1zM316 237h2v1h-2zM285 238h1v1h-1zM289 239h1v1h-1zM292 239h2v1h-2zM300 239h1v1h-1zM279 240h1v1h-1zM290 240h2v1h-2zM296 240h1v1h-1zM272 243h1v1h-1zM266 244h1v1h-1zM288 244h1v1h-1zM306 244h1v1h-1zM279 245h1v1h-1zM310 245h1v1h-1zM277 246h1v1h-1zM294 246h1v1h-1zM255 247h1v1h-1zM283 247h1v1h-1zM286 247h1v1h-1zM293 247h1v1h-1zM276 248h1v1h-1zM282 248h1v1h-1zM289 249h1v1h-1zM289 250h1v1h-1zM291 250h1v1h-1zM300 250h1v1h-1zM270 251h1v1h-1zM277 251h1v1h-1zM285 251h1v1h-1zM290 252h1v1h-1zM299 252h1v1h-1zM275 253h1v1h-1zM282 253h1v1h-1zM262 254h1v1h-1zM287 254h1v1h-1zM299 254h1v1h-1zM269 255h1v1h-1zM278 255h1v1h-1zM309 255h1v1h-1zM233 256h1v1h-1zM313 256h1v1h-1zM270 257h1v1h-1zM273 257h1v1h-1zM275 257h1v1h-1zM295 257h1v1h-1zM282 258h1v1h-1zM300 258h2v1h-2zM241 259h1v1h-1zM279 259h1v1h-1zM296 259h1v1h-1zM299 259h1v1h-1zM232 260h1v1h-1zM265 260h1v1h-1zM276 260h1v1h-1zM281 260h1v1h-1zM306 261h1v1h-1zM311 261h1v1h-1zM321 261h1v1h-1zM280 262h1v1h-1zM265 263h2v1h-2zM276 263h1v1h-1zM273 264h1v1h-1zM280 264h1v1h-1zM297 264h1v1h-1zM304 264h1v1h-1zM264 265h1v1h-1zM298 265h1v1h-1zM267 266h2v1h-2zM271 266h1v1h-1zM278 266h1v1h-1zM296 266h1v1h-1zM299 266h2v1h-2zM263 267h1v1h-1zM270 267h1v1h-1zM273 267h2v1h-2zM273 268h1v1h-1zM298 268h1v1h-1zM322 268h1v1h-1zM260 269h1v1h-1zM312 269h1v1h-1zM265 270h1v1h-1zM268 271h1v1h-1zM282 271h1v1h-1zM289 271h1v1h-1zM298 271h1v1h-1zM257 272h1v1h-1zM301 272h1v1h-1zM248 273h1v1h-1zM307 273h1v1h-1zM269 274h1v1h-1zM271 274h1v1h-1zM262 275h1v1h-1zM271 275h1v1h-1zM276 275h1v1h-1zM290 275h1v1h-1zM278 276h1v1h-1zM291 276h1v1h-1zM304 276h1v1h-1zM304 277h1v1h-1zM264 278h1v1h-1zM266 278h1v1h-1zM268 278h1v1h-1zM310 278h1v1h-1zM276 279h2v1h-2zM292 279h1v1h-1zM263 280h1v1h-1zM269 280h1v1h-1zM275 280h1v1h-1zM277 280h1v1h-1zM299 280h1v1h-1zM270 281h1v1h-1zM273 281h1v1h-1zM276 281h2v1h-2zM296 281h1v1h-1zM307 281h1v1h-1zM264 282h1v1h-1zM268 282h2v1h-2zM272 282h2v1h-2zM275 282h2v1h-2zM291 282h1v1h-1zM264 283h1v1h-1zM270 283h2v1h-2zM273 283h2v1h-2zM278 283h1v1h-1zM304 283h1v1h-1zM311 283h1v1h-1zM265 284h1v1h-1zM270 284h1v1h-1zM273 284h3v1h-3zM281 284h1v1h-1zM283 284h1v1h-1zM301 284h1v1h-1zM310 284h1v1h-1zM263 285h1v1h-1zM268 285h1v1h-1zM271 285h2v1h-2zM275 285h1v1h-1zM280 285h1v1h-1zM294 285h1v1h-1zM296 285h1v1h-1zM300 285h1v1h-1zM258 286h1v1h-1zM261 286h5v1h-5zM268 286h2v1h-2zM271 286h2v1h-2zM274 286h2v1h-2zM277 286h1v1h-1zM286 286h2v1h-2zM306 286h1v1h-1zM267 287h1v1h-1zM269 287h2v1h-2zM272 287h2v1h-2zM277 287h2v1h-2zM296 287h1v1h-1zM302 287h1v1h-1zM259 288h1v1h-1zM262 288h1v1h-1zM266 288h2v1h-2zM270 288h2v1h-2zM275 288h2v1h-2zM278 288h2v1h-2zM282 288h1v1h-1zM305 288h1v1h-1zM237 289h1v1h-1zM256 289h1v1h-1zM259 289h2v1h-2zM263 289h1v1h-1zM265 289h2v1h-2zM268 289h1v1h-1zM271 289h1v1h-1zM273 289h1v1h-1zM276 289h1v1h-1zM279 289h2v1h-2zM293 289h1v1h-1zM234 290h1v1h-1zM257 290h1v1h-1zM260 290h4v1h-4zM266 290h1v1h-1zM269 290h1v1h-1zM271 290h1v1h-1zM277 290h1v1h-1zM279 290h1v1h-1zM295 290h1v1h-1zM297 290h1v1h-1zM260 291h1v1h-1zM262 291h1v1h-1zM265 291h1v1h-1zM277 291h2v1h-2zM281 291h1v1h-1zM293 291h1v1h-1zM256 292h1v1h-1zM260 292h2v1h-2zM264 292h1v1h-1zM266 292h1v1h-1zM268 292h2v1h-2zM271 292h1v1h-1zM274 292h1v1h-1zM277 292h2v1h-2zM280 292h1v1h-1zM286 292h2v1h-2zM291 292h2v1h-2zM258 293h1v1h-1zM260 293h5v1h-5zM268 293h1v1h-1zM270 293h2v1h-2zM274 293h1v1h-1zM277 293h4v1h-4zM284 293h2v1h-2zM287 293h1v1h-1zM305 293h1v1h-1zM257 294h1v1h-1zM262 294h3v1h-3zM270 294h2v1h-2zM273 294h2v1h-2zM276 294h2v1h-2zM279 294h2v1h-2zM283 294h1v1h-1zM286 294h1v1h-1zM306 294h1v1h-1zM256 295h2v1h-2zM259 295h1v1h-1zM262 295h1v1h-1zM265 295h2v1h-2zM269 295h2v1h-2zM272 295h1v1h-1zM274 295h5v1h-5zM280 295h3v1h-3zM290 295h1v1h-1zM292 295h1v1h-1zM299 295h1v1h-1zM252 296h1v1h-1zM255 296h2v1h-2zM258 296h5v1h-5zM265 296h2v1h-2zM268 296h2v1h-2zM271 296h2v1h-2zM274 296h3v1h-3zM278 296h2v1h-2zM283 296h1v1h-1zM285 296h2v1h-2zM289 296h1v1h-1zM298 296h1v1h-1zM302 296h1v1h-1zM310 296h1v1h-1zM256 297h1v1h-1zM260 297h6v1h-6zM267 297h2v1h-2zM272 297h1v1h-1zM275 297h7v1h-7zM284 297h3v1h-3zM288 297h2v1h-2zM293 297h1v1h-1zM297 297h1v1h-1zM299 297h1v1h-1zM306 297h1v1h-1zM254 298h1v1h-1zM256 298h1v1h-1zM258 298h1v1h-1zM260 298h1v1h-1zM263 298h1v1h-1zM266 298h1v1h-1zM268 298h1v1h-1zM270 298h1v1h-1zM273 298h2v1h-2zM276 298h5v1h-5zM284 298h3v1h-3zM288 298h2v1h-2zM291 298h3v1h-3zM297 298h2v1h-2zM300 298h1v1h-1zM306 298h1v1h-1zM308 298h1v1h-1zM249 299h1v1h-1zM251 299h2v1h-2zM254 299h8v1h-8zM264 299h2v1h-2zM267 299h1v1h-1zM269 299h1v1h-1zM271 299h1v1h-1zM273 299h8v1h-8zM282 299h9v1h-9zM294 299h1v1h-1zM298 299h1v1h-1zM303 299h1v1h-1zM250 300h2v1h-2zM255 300h3v1h-3zM260 300h9v1h-9zM270 300h1v1h-1zM272 300h1v1h-1zM274 300h4v1h-4zM279 300h2v1h-2zM282 300h1v1h-1zM285 300h2v1h-2zM289 300h1v1h-1zM294 300h1v1h-1zM296 300h1v1h-1zM300 300h1v1h-1zM253 301h2v1h-2zM256 301h11v1h-11zM268 301h3v1h-3zM274 301h7v1h-7zM282 301h5v1h-5zM288 301h1v1h-1zM292 301h4v1h-4zM300 301h1v1h-1zM304 301h1v1h-1zM244 302h1v1h-1zM247 302h1v1h-1zM249 302h1v1h-1zM251 302h1v1h-1zM255 302h13v1h-13zM269 302h1v1h-1zM271 302h7v1h-7zM279 302h2v1h-2zM282 302h1v1h-1zM286 302h1v1h-1zM288 302h5v1h-5zM295 302h3v1h-3zM300 302h2v1h-2zM306 302h1v1h-1zM226 303h1v1h-1zM241 303h1v1h-1zM247 303h4v1h-4zM252 303h16v1h-16zM270 303h2v1h-2zM273 303h8v1h-8zM282 303h2v1h-2zM285 303h6v1h-6zM292 303h2v1h-2zM296 303h2v1h-2zM304 303h1v1h-1zM308 303h1v1h-1zM244 304h1v1h-1zM248 304h14v1h-14zM263 304h2v1h-2zM266 304h2v1h-2zM269 304h1v1h-1zM271 304h7v1h-7zM280 304h8v1h-8zM290 304h3v1h-3zM294 304h1v1h-1zM299 304h1v1h-1zM301 304h2v1h-2zM305 304h1v1h-1zM240 305h1v1h-1zM243 305h1v1h-1zM245 305h10v1h-10zM256 305h13v1h-13zM270 305h2v1h-2zM273 305h1v1h-1zM275 305h4v1h-4zM280 305h1v1h-1zM282 305h3v1h-3zM287 305h2v1h-2zM293 305h5v1h-5zM300 305h1v1h-1zM302 305h2v1h-2zM240 306h2v1h-2zM246 306h2v1h-2zM249 306h2v1h-2zM252 306h21v1h-21zM274 306h4v1h-4zM280 306h2v1h-2zM283 306h2v1h-2zM286 306h1v1h-1zM291 306h4v1h-4zM296 306h1v1h-1zM298 306h5v1h-5zM310 306h1v1h-1zM231 307h1v1h-1zM239 307h1v1h-1zM242 307h4v1h-4zM247 307h13v1h-13zM262 307h7v1h-7zM270 307h6v1h-6zM277 307h2v1h-2zM280 307h4v1h-4zM286 307h1v1h-1zM289 307h3v1h-3zM293 307h2v1h-2zM297 307h1v1h-1zM300 307h2v1h-2zM303 307h1v1h-1zM305 307h1v1h-1zM238 308h2v1h-2zM241 308h28v1h-28zM271 308h1v1h-1zM273 308h10v1h-10zM286 308h4v1h-4zM294 308h2v1h-2zM297 308h3v1h-3zM301 308h3v1h-3zM307 308h1v1h-1zM310 308h1v1h-1zM312 308h1v1h-1zM222 309h1v1h-1zM224 309h1v1h-1zM232 309h1v1h-1zM238 309h1v1h-1zM242 309h2v1h-2zM245 309h6v1h-6zM252 309h14v1h-14zM268 309h3v1h-3zM272 309h5v1h-5zM278 309h1v1h-1zM283 309h1v1h-1zM286 309h2v1h-2zM289 309h1v1h-1zM291 309h5v1h-5zM297 309h2v1h-2zM301 309h3v1h-3zM310 309h1v1h-1zM312 309h1v1h-1zM232 310h1v1h-1zM236 310h5v1h-5zM242 310h9v1h-9zM252 310h19v1h-19zM272 310h1v1h-1zM274 310h2v1h-2zM277 310h1v1h-1zM279 310h1v1h-1zM281 310h2v1h-2zM284 310h4v1h-4zM289 310h3v1h-3zM294 310h1v1h-1zM298 310h1v1h-1zM300 310h1v1h-1zM302 310h2v1h-2zM306 310h1v1h-1zM230 311h1v1h-1zM233 311h2v1h-2zM237 311h29v1h-29zM267 311h3v1h-3zM271 311h6v1h-6zM278 311h6v1h-6zM286 311h2v1h-2zM289 311h3v1h-3zM293 311h4v1h-4zM298 311h1v1h-1zM301 311h2v1h-2zM308 311h1v1h-1zM222 312h1v1h-1zM230 312h1v1h-1zM235 312h2v1h-2zM239 312h1v1h-1zM241 312h4v1h-4zM246 312h24v1h-24zM272 312h3v1h-3zM276 312h1v1h-1zM278 312h2v1h-2zM281 312h3v1h-3zM286 312h2v1h-2zM292 312h2v1h-2zM296 312h6v1h-6zM303 312h1v1h-1zM305 312h1v1h-1zM220 313h1v1h-1zM223 313h1v1h-1zM227 313h2v1h-2zM233 313h2v1h-2zM238 313h9v1h-9zM248 313h13v1h-13zM262 313h4v1h-4zM268 313h1v1h-1zM270 313h1v1h-1zM272 313h1v1h-1zM274 313h1v1h-1zM278 313h3v1h-3zM282 313h6v1h-6zM291 313h1v1h-1zM294 313h1v1h-1zM297 313h5v1h-5zM310 313h1v1h-1zM218 314h1v1h-1zM221 314h1v1h-1zM224 314h1v1h-1zM233 314h4v1h-4zM238 314h30v1h-30zM269 314h1v1h-1zM271 314h2v1h-2zM274 314h7v1h-7zM282 314h1v1h-1zM284 314h1v1h-1zM289 314h1v1h-1zM294 314h4v1h-4zM301 314h1v1h-1zM303 314h1v1h-1zM307 314h1v1h-1zM220 315h1v1h-1zM229 315h1v1h-1zM235 315h1v1h-1zM237 315h22v1h-22zM261 315h13v1h-13zM275 315h1v1h-1zM277 315h4v1h-4zM282 315h1v1h-1zM284 315h3v1h-3zM288 315h1v1h-1zM291 315h2v1h-2zM294 315h1v1h-1zM298 315h1v1h-1zM300 315h1v1h-1zM220 316h1v1h-1zM223 316h1v1h-1zM226 316h1v1h-1zM231 316h1v1h-1zM233 316h1v1h-1zM235 316h10v1h-10zM246 316h19v1h-19zM266 316h2v1h-2zM271 316h3v1h-3zM278 316h5v1h-5zM285 316h1v1h-1zM287 316h2v1h-2zM290 316h2v1h-2zM293 316h1v1h-1zM295 316h1v1h-1zM297 316h2v1h-2zM300 316h1v1h-1zM221 317h4v1h-4zM231 317h1v1h-1zM233 317h30v1h-30zM264 317h1v1h-1zM266 317h2v1h-2zM270 317h1v1h-1zM275 317h1v1h-1zM277 317h1v1h-1zM280 317h2v1h-2zM283 317h5v1h-5zM292 317h2v1h-2zM295 317h4v1h-4zM300 317h1v1h-1zM222 318h1v1h-1zM227 318h1v1h-1zM229 318h2v1h-2zM233 318h3v1h-3zM237 318h4v1h-4zM242 318h11v1h-11zM255 318h5v1h-5zM261 318h5v1h-5zM268 318h1v1h-1zM272 318h1v1h-1zM278 318h1v1h-1zM280 318h1v1h-1zM285 318h1v1h-1zM288 318h2v1h-2zM292 318h1v1h-1zM295 318h1v1h-1zM302 318h1v1h-1zM230 319h1v1h-1zM232 319h5v1h-5zM238 319h7v1h-7zM246 319h3v1h-3zM250 319h4v1h-4zM255 319h13v1h-13zM269 319h1v1h-1zM277 319h1v1h-1zM279 319h2v1h-2zM285 319h2v1h-2zM292 319h1v1h-1zM228 320h2v1h-2zM234 320h2v1h-2zM239 320h6v1h-6zM246 320h1v1h-1zM249 320h2v1h-2zM254 320h4v1h-4zM261 320h3v1h-3zM266 320h1v1h-1zM278 320h3v1h-3zM282 320h1v1h-1z" fill="#000"/>
<rect x="217.20" y="235.50" width="117.30" height="86.20" fill="none" stroke="#000" stroke-width="1.3"/>
<ellipse cx="293.25" cy="305.0" rx="21.25" ry="15.9" fill="none" stroke="#111" stroke-width="1.4" transform="rotate(0 293.25 305.0)"/>
<path d="M217.20 321.7v3.5M226.03 321.7v2.2M231.19 321.7v2.2M234.86 321.7v2.2M237.70 321.7v2.2M240.02 321.7v2.2M241.98 321.7v2.2M243.68 321.7v2.2M245.18 321.7v2.2M246.52 321.7v3.5M255.35 321.7v2.2M260.52 321.7v2.2M264.18 321.7v2.2M267.02 321.7v2.2M269.34 321.7v2.2M271.31 321.7v2.2M273.01 321.7v2.2M274.51 321.7v2.2M275.85 321.7v3.5M284.68 321.7v2.2M289.84 321.7v2.2M293.51 321.7v2.2M296.35 321.7v2.2M298.67 321.7v2.2M300.63 321.7v2.2M302.33 321.7v2.2M303.83 321.7v2.2M305.18 321.7v3.5M334.50 321.7v3.5M217.20 321.60h-4.2M217.20 319.53h-2.3M217.20 317.45h-2.3M217.20 315.38h-2.3M217.20 313.30h-2.3M217.20 311.23h-2.3M217.20 309.15h-2.3M217.20 307.08h-2.3M217.20 305.00h-4.2M217.20 302.93h-2.3M217.20 300.85h-2.3M217.20 298.78h-2.3M217.20 296.70h-2.3M217.20 294.62h-2.3M217.20 292.55h-2.3M217.20 290.48h-2.3M217.20 288.40h-4.2M217.20 286.32h-2.3M217.20 284.25h-2.3M217.20 282.18h-2.3M217.20 280.10h-2.3M217.20 278.02h-2.3M217.20 275.95h-2.3M217.20 273.88h-2.3M217.20 271.80h-4.2M217.20 269.73h-2.3M217.20 267.65h-2.3M217.20 265.57h-2.3M217.20 263.50h-2.3M217.20 261.43h-2.3M217.20 259.35h-2.3M217.20 257.27h-2.3M217.20 255.20h-4.2M217.20 253.12h-2.3M217.20 251.05h-2.3M217.20 248.97h-2.3M217.20 246.90h-2.3M217.20 244.82h-2.3M217.20 242.75h-2.3M217.20 240.68h-2.3M217.20 238.60h-4.2" stroke="#111" stroke-width="1" fill="none"/>
<path d="M401 237h1v1h-1zM418 237h1v1h-1zM441 237h1v1h-1zM446 237h2v1h-2zM451 237h1v1h-1zM455 237h1v1h-1zM457 237h1v1h-1zM459 237h1v1h-1zM462 237h1v1h-1zM464 237h2v1h-2zM467 237h1v1h-1zM469 237h1v1h-1zM472 237h4v1h-4zM477 237h2v1h-2zM441 238h1v1h-1zM443 238h2v1h-2zM446 238h1v1h-1zM450 238h4v1h-4zM455 238h1v1h-1zM457 238h9v1h-9zM467 238h6v1h-6zM474 238h5v1h-5zM460 239h1v1h-1zM479 239h1v1h-1zM452 240h1v1h-1zM439 241h1v1h-1zM458 241h1v1h-1zM460 242h1v1h-1zM444 243h1v1h-1zM455 243h1v1h-1zM424 244h1v1h-1zM459 244h1v1h-1zM455 245h1v1h-1zM404 246h1v1h-1zM455 246h2v1h-2zM459 247h1v1h-1zM462 247h1v1h-1zM452 248h1v1h-1zM456 249h1v1h-1zM440 250h1v1h-1zM444 250h1v1h-1zM448 251h1v1h-1zM452 251h1v1h-1zM445 253h1v1h-1zM448 253h1v1h-1zM448 254h1v1h-1zM450 254h1v1h-1zM447 255h1v1h-1zM452 255h1v1h-1zM438 257h1v1h-1zM440 257h1v1h-1zM443 257h1v1h-1zM454 257h1v1h-1zM439 258h1v1h-1zM440 260h1v1h-1zM442 260h1v1h-1zM449 260h1v1h-1zM416 261h1v1h-1zM445 261h1v1h-1zM455 261h1v1h-1zM446 262h1v1h-1zM434 263h1v1h-1zM444 264h1v1h-1zM444 265h1v1h-1zM450 265h1v1h-1zM458 265h1v1h-1zM474 265h1v1h-1zM445 266h1v1h-1zM448 266h1v1h-1zM418 267h1v1h-1zM435 267h1v1h-1zM437 267h1v1h-1zM439 267h1v1h-1zM441 267h1v1h-1zM447 267h1v1h-1zM463 267h1v1h-1zM440 268h3v1h-3zM443 269h1v1h-1zM445 269h1v1h-1zM449 269h1v1h-1zM451 269h1v1h-1zM435 270h2v1h-2zM440 270h1v1h-1zM443 270h1v1h-1zM447 270h2v1h-2zM450 270h1v1h-1zM440 271h3v1h-3zM446 271h1v1h-1zM451 271h1v1h-1zM440 272h1v1h-1zM442 272h1v1h-1zM444 272h2v1h-2zM448 272h1v1h-1zM450 272h1v1h-1zM452 272h1v1h-1zM435 273h1v1h-1zM439 273h1v1h-1zM441 273h1v1h-1zM444 273h1v1h-1zM446 273h1v1h-1zM448 273h1v1h-1zM450 273h1v1h-1zM435 274h2v1h-2zM440 274h1v1h-1zM445 274h1v1h-1zM448 274h1v1h-1zM437 275h3v1h-3zM442 275h1v1h-1zM444 275h2v1h-2zM447 275h1v1h-1zM449 275h1v1h-1zM435 276h1v1h-1zM441 276h1v1h-1zM444 276h1v1h-1zM448 276h1v1h-1zM451 276h1v1h-1zM434 277h1v1h-1zM436 277h1v1h-1zM438 277h4v1h-4zM444 277h2v1h-2zM448 277h2v1h-2zM402 278h1v1h-1zM430 278h1v1h-1zM435 278h1v1h-1zM437 278h2v1h-2zM440 278h1v1h-1zM442 278h2v1h-2zM447 278h1v1h-1zM449 278h1v1h-1zM452 278h1v1h-1zM428 279h1v1h-1zM436 279h1v1h-1zM439 279h3v1h-3zM443 279h1v1h-1zM448 279h1v1h-1zM435 280h3v1h-3zM439 280h4v1h-4zM445 280h3v1h-3zM452 280h1v1h-1zM430 281h2v1h-2zM434 281h1v1h-1zM436 281h1v1h-1zM438 281h2v1h-2zM441 281h3v1h-3zM445 281h1v1h-1zM448 281h1v1h-1zM450 281h1v1h-1zM453 281h1v1h-1zM435 282h2v1h-2zM439 282h1v1h-1zM441 282h1v1h-1zM443 282h1v1h-1zM445 282h1v1h-1zM448 282h1v1h-1zM431 283h1v1h-1zM433 283h7v1h-7zM443 283h3v1h-3zM447 283h1v1h-1zM450 283h2v1h-2zM426 284h1v1h-1zM428 284h1v1h-1zM431 284h4v1h-4zM436 284h2v1h-2zM439 284h1v1h-1zM441 284h2v1h-2zM445 284h2v1h-2zM448 284h1v1h-1zM461 284h1v1h-1zM470 284h1v1h-1zM431 285h2v1h-2zM434 285h2v1h-2zM437 285h2v1h-2zM441 285h3v1h-3zM445 285h3v1h-3zM460 285h1v1h-1zM463 285h1v1h-1zM477 285h1v1h-1zM425 286h1v1h-1zM428 286h3v1h-3zM432 286h2v1h-2zM435 286h1v1h-1zM438 286h2v1h-2zM442 286h1v1h-1zM444 286h1v1h-1zM446 286h2v1h-2zM449 286h2v1h-2zM453 286h1v1h-1zM459 286h1v1h-1zM469 286h1v1h-1zM478 286h1v1h-1zM432 287h5v1h-5zM439 287h2v1h-2zM443 287h2v1h-2zM447 287h3v1h-3zM427 288h2v1h-2zM430 288h1v1h-1zM432 288h2v1h-2zM437 288h2v1h-2zM440 288h4v1h-4zM445 288h2v1h-2zM448 288h5v1h-5zM462 288h1v1h-1zM474 288h1v1h-1zM428 289h1v1h-1zM430 289h2v1h-2zM433 289h3v1h-3zM437 289h1v1h-1zM439 289h1v1h-1zM444 289h1v1h-1zM446 289h1v1h-1zM451 289h1v1h-1zM428 290h2v1h-2zM432 290h1v1h-1zM434 290h5v1h-5zM441 290h1v1h-1zM444 290h1v1h-1zM446 290h1v1h-1zM450 290h1v1h-1zM457 290h1v1h-1zM461 290h1v1h-1zM472 290h1v1h-1zM485 290h1v1h-1zM429 291h3v1h-3zM433 291h3v1h-3zM437 291h1v1h-1zM439 291h1v1h-1zM442 291h7v1h-7zM454 291h1v1h-1zM457 291h1v1h-1zM469 291h1v1h-1zM483 291h1v1h-1zM431 292h1v1h-1zM435 292h2v1h-2zM440 292h2v1h-2zM443 292h3v1h-3zM448 292h1v1h-1zM450 292h2v1h-2zM463 292h2v1h-2zM481 292h1v1h-1zM491 292h1v1h-1zM422 293h1v1h-1zM424 293h1v1h-1zM427 293h1v1h-1zM429 293h2v1h-2zM432 293h1v1h-1zM434 293h13v1h-13zM469 293h1v1h-1zM487 293h1v1h-1zM420 294h1v1h-1zM427 294h2v1h-2zM430 294h1v1h-1zM434 294h1v1h-1zM436 294h5v1h-5zM442 294h3v1h-3zM446 294h2v1h-2zM450 294h2v1h-2zM457 294h1v1h-1zM464 294h1v1h-1zM472 294h1v1h-1zM476 294h1v1h-1zM416 295h1v1h-1zM421 295h1v1h-1zM424 295h1v1h-1zM426 295h1v1h-1zM429 295h1v1h-1zM431 295h1v1h-1zM433 295h1v1h-1zM435 295h1v1h-1zM437 295h5v1h-5zM443 295h2v1h-2zM450 295h2v1h-2zM454 295h1v1h-1zM416 296h2v1h-2zM419 296h1v1h-1zM423 296h5v1h-5zM429 296h6v1h-6zM436 296h6v1h-6zM443 296h4v1h-4zM448 296h2v1h-2zM451 296h1v1h-1zM453 296h2v1h-2zM456 296h1v1h-1zM488 296h1v1h-1zM406 297h1v1h-1zM415 297h3v1h-3zM421 297h1v1h-1zM423 297h1v1h-1zM429 297h16v1h-16zM446 297h1v1h-1zM448 297h2v1h-2zM451 297h2v1h-2zM460 297h1v1h-1zM408 298h1v1h-1zM413 298h1v1h-1zM419 298h1v1h-1zM421 298h25v1h-25zM447 298h1v1h-1zM449 298h3v1h-3zM453 298h1v1h-1zM473 298h1v1h-1zM415 299h3v1h-3zM419 299h26v1h-26zM446 299h2v1h-2zM450 299h1v1h-1zM454 299h1v1h-1zM481 299h1v1h-1zM483 299h1v1h-1zM408 300h2v1h-2zM412 300h1v1h-1zM414 300h32v1h-32zM448 300h2v1h-2zM461 300h1v1h-1zM472 300h1v1h-1zM481 300h1v1h-1zM409 301h1v1h-1zM411 301h9v1h-9zM421 301h28v1h-28zM450 301h1v1h-1zM470 301h1v1h-1zM478 301h1v1h-1zM487 301h1v1h-1zM407 302h1v1h-1zM413 302h1v1h-1zM415 302h1v1h-1zM417 302h29v1h-29zM449 302h1v1h-1zM452 302h1v1h-1zM454 302h1v1h-1zM408 303h1v1h-1zM410 303h36v1h-36zM447 303h1v1h-1zM467 303h1v1h-1zM480 303h1v1h-1zM483 303h1v1h-1zM486 303h1v1h-1zM403 304h1v1h-1zM409 304h1v1h-1zM411 304h2v1h-2zM414 304h30v1h-30zM446 304h1v1h-1zM450 304h1v1h-1zM464 304h1v1h-1zM471 304h1v1h-1zM479 304h1v1h-1zM484 304h1v1h-1zM411 305h1v1h-1zM413 305h32v1h-32zM450 305h2v1h-2zM453 305h1v1h-1zM458 305h1v1h-1zM476 305h1v1h-1zM478 305h1v1h-1zM481 305h1v1h-1zM391 306h1v1h-1zM403 306h4v1h-4zM408 306h37v1h-37zM446 306h1v1h-1zM448 306h1v1h-1zM450 306h1v1h-1zM397 307h2v1h-2zM403 307h1v1h-1zM405 307h3v1h-3zM409 307h40v1h-40zM450 307h1v1h-1zM472 307h1v1h-1zM485 307h1v1h-1zM488 307h1v1h-1zM399 308h1v1h-1zM404 308h38v1h-38zM449 308h1v1h-1zM452 308h1v1h-1zM468 308h1v1h-1zM398 309h1v1h-1zM401 309h3v1h-3zM405 309h37v1h-37zM444 309h1v1h-1zM446 309h2v1h-2zM479 309h1v1h-1zM393 310h1v1h-1zM400 310h3v1h-3zM404 310h39v1h-39zM444 310h2v1h-2zM453 310h1v1h-1zM470 310h1v1h-1zM478 310h1v1h-1zM397 311h1v1h-1zM401 311h1v1h-1zM405 311h33v1h-33zM439 311h1v1h-1zM442 311h1v1h-1zM444 311h2v1h-2zM450 311h1v1h-1zM453 311h1v1h-1zM460 311h1v1h-1zM464 311h2v1h-2zM399 312h1v1h-1zM402 312h2v1h-2zM405 312h33v1h-33zM439 312h1v1h-1zM444 312h2v1h-2zM457 312h1v1h-1zM460 312h1v1h-1zM470 312h1v1h-1zM480 312h1v1h-1zM394 313h1v1h-1zM400 313h2v1h-2zM403 313h36v1h-36zM450 313h2v1h-2zM399 314h1v1h-1zM402 314h34v1h-34zM437 314h1v1h-1zM442 314h1v1h-1zM444 314h1v1h-1zM478 314h1v1h-1zM394 315h1v1h-1zM398 315h1v1h-1zM401 315h1v1h-1zM403 315h32v1h-32zM437 315h3v1h-3zM447 315h1v1h-1zM462 315h1v1h-1zM400 316h1v1h-1zM402 316h32v1h-32zM435 316h1v1h-1zM438 316h1v1h-1zM447 316h1v1h-1zM458 316h1v1h-1zM395 317h1v1h-1zM399 317h1v1h-1zM401 317h25v1h-25zM427 317h2v1h-2zM430 317h3v1h-3zM437 317h1v1h-1zM440 317h2v1h-2zM469 317h1v1h-1zM401 318h2v1h-2zM404 318h24v1h-24zM429 318h1v1h-1zM432 318h7v1h-7zM440 318h2v1h-2zM448 318h2v1h-2z" fill="#000"/>
<rect x="386.40" y="236.70" width="110.20" height="83.00" fill="none" stroke="#000" stroke-width="1.3"/>
<ellipse cx="469.2" cy="300.8" rx="21.6" ry="17.3" fill="none" stroke="#111" stroke-width="1.4" transform="rotate(0 469.2 300.8)"/>
<path d="M386.40 319.7v3.5M394.69 319.7v2.2M399.54 319.7v2.2M402.99 319.7v2.2M405.66 319.7v2.2M407.84 319.7v2.2M409.68 319.7v2.2M411.28 319.7v2.2M412.69 319.7v2.2M413.95 319.7v3.5M422.24 319.7v2.2M427.09 319.7v2.2M430.54 319.7v2.2M433.21 319.7v2.2M435.39 319.7v2.2M437.23 319.7v2.2M438.83 319.7v2.2M440.24 319.7v2.2M441.50 319.7v3.5M449.79 319.7v2.2M454.64 319.7v2.2M458.09 319.7v2.2M460.76 319.7v2.2M462.94 319.7v2.2M464.78 319.7v2.2M466.38 319.7v2.2M467.79 319.7v2.2M469.05 319.7v3.5M496.60 319.7v3.5M386.40 319.50h-4.2M386.40 317.50h-2.3M386.40 315.50h-2.3M386.40 313.50h-2.3M386.40 311.50h-2.3M386.40 309.50h-2.3M386.40 307.50h-2.3M386.40 305.50h-2.3M386.40 303.50h-4.2M386.40 301.50h-2.3M386.40 299.50h-2.3M386.40 297.50h-2.3M386.40 295.50h-2.3M386.40 293.50h-2.3M386.40 291.50h-2.3M386.40 289.50h-2.3M386.40 287.50h-4.2M386.40 285.50h-2.3M386.40 283.50h-2.3M386.40 281.50h-2.3M386.40 279.50h-2.3M386.40 277.50h-2.3M386.40 275.50h-2.3M386.40 273.50h-2.3M386.40 271.50h-4.2M386.40 269.50h-2.3M386.40 267.50h-2.3M386.40 265.50h-2.3M386.40 263.50h-2.3M386.40 261.50h-2.3M386.40 259.50h-2.3M386.40 257.50h-2.3M386.40 255.50h-4.2M386.40 253.50h-2.3M386.40 251.50h-2.3M386.40 249.50h-2.3M386.40 247.50h-2.3M386.40 245.50h-2.3M386.40 243.50h-2.3M386.40 241.50h-2.3M386.40 239.50h-4.2" stroke="#111" stroke-width="1" fill="none"/>
<path d="M231 393h1v1h-1zM264 393h1v1h-1zM266 393h5v1h-5zM272 393h9v1h-9zM282 393h4v1h-4zM287 393h9v1h-9zM299 393h1v1h-1zM264 394h6v1h-6zM271 394h17v1h-17zM289 394h3v1h-3zM294 394h4v1h-4zM299 394h1v1h-1zM264 395h1v1h-1zM273 395h1v1h-1zM276 395h1v1h-1zM284 395h1v1h-1zM267 396h1v1h-1zM271 396h1v1h-1zM273 396h2v1h-2zM276 396h1v1h-1zM279 396h2v1h-2zM283 396h2v1h-2zM286 396h1v1h-1zM263 397h1v1h-1zM265 397h1v1h-1zM276 397h2v1h-2zM279 397h1v1h-1zM282 397h1v1h-1zM264 398h1v1h-1zM270 398h2v1h-2zM274 398h3v1h-3zM278 398h1v1h-1zM281 398h3v1h-3zM260 399h1v1h-1zM264 399h1v1h-1zM267 399h2v1h-2zM270 399h1v1h-1zM274 399h1v1h-1zM277 399h2v1h-2zM281 399h2v1h-2zM285 399h1v1h-1zM262 400h1v1h-1zM264 400h1v1h-1zM268 400h2v1h-2zM271 400h1v1h-1zM275 400h1v1h-1zM278 400h2v1h-2zM281 400h2v1h-2zM264 401h1v1h-1zM268 401h1v1h-1zM270 401h1v1h-1zM272 401h1v1h-1zM275 401h3v1h-3zM280 401h1v1h-1zM284 401h2v1h-2zM293 401h1v1h-1zM262 402h3v1h-3zM270 402h1v1h-1zM272 402h5v1h-5zM278 402h1v1h-1zM280 402h2v1h-2zM260 403h1v1h-1zM262 403h1v1h-1zM266 403h1v1h-1zM271 403h1v1h-1zM275 403h2v1h-2zM278 403h1v1h-1zM280 403h2v1h-2zM285 403h1v1h-1zM311 403h1v1h-1zM218 404h1v1h-1zM263 404h4v1h-4zM268 404h2v1h-2zM272 404h1v1h-1zM275 404h5v1h-5zM281 404h2v1h-2zM258 405h1v1h-1zM261 405h1v1h-1zM267 405h1v1h-1zM269 405h1v1h-1zM271 405h1v1h-1zM273 405h2v1h-2zM277 405h1v1h-1zM279 405h2v1h-2zM283 405h1v1h-1zM258 406h1v1h-1zM261 406h1v1h-1zM264 406h1v1h-1zM266 406h1v1h-1zM270 406h1v1h-1zM272 406h1v1h-1zM276 406h1v1h-1zM278 406h4v1h-4zM283 406h1v1h-1zM302 406h1v1h-1zM257 407h1v1h-1zM267 407h2v1h-2zM270 407h1v1h-1zM273 407h3v1h-3zM281 407h1v1h-1zM284 407h1v1h-1zM265 408h1v1h-1zM268 408h1v1h-1zM271 408h2v1h-2zM274 408h2v1h-2zM277 408h1v1h-1zM279 408h2v1h-2zM312 408h1v1h-1zM319 408h1v1h-1zM259 409h1v1h-1zM263 409h5v1h-5zM269 409h7v1h-7zM280 409h1v1h-1zM284 409h1v1h-1zM259 410h1v1h-1zM262 410h14v1h-14zM277 410h2v1h-2zM280 410h1v1h-1zM282 410h1v1h-1zM285 410h1v1h-1zM259 411h2v1h-2zM265 411h1v1h-1zM269 411h4v1h-4zM274 411h3v1h-3zM278 411h3v1h-3zM256 412h1v1h-1zM258 412h2v1h-2zM264 412h1v1h-1zM266 412h8v1h-8zM275 412h3v1h-3zM280 412h3v1h-3zM250 413h1v1h-1zM255 413h1v1h-1zM267 413h9v1h-9zM277 413h3v1h-3zM281 413h1v1h-1zM304 413h1v1h-1zM262 414h1v1h-1zM264 414h18v1h-18zM306 414h1v1h-1zM251 415h1v1h-1zM261 415h1v1h-1zM266 415h10v1h-10zM277 415h1v1h-1zM279 415h1v1h-1zM284 415h1v1h-1zM252 416h1v1h-1zM256 416h1v1h-1zM266 416h12v1h-12zM279 416h3v1h-3zM254 417h1v1h-1zM257 417h2v1h-2zM263 417h15v1h-15zM279 417h2v1h-2zM253 418h1v1h-1zM256 418h1v1h-1zM262 418h1v1h-1zM264 418h14v1h-14zM279 418h1v1h-1zM255 419h2v1h-2zM261 419h17v1h-17zM279 419h1v1h-1zM281 419h1v1h-1zM252 420h1v1h-1zM257 420h1v1h-1zM263 420h13v1h-13zM277 420h1v1h-1zM279 420h1v1h-1zM254 421h3v1h-3zM261 421h18v1h-18zM280 421h1v1h-1zM251 422h1v1h-1zM255 422h1v1h-1zM257 422h2v1h-2zM262 422h13v1h-13zM276 422h4v1h-4zM331 422h1v1h-1zM246 423h1v1h-1zM249 423h3v1h-3zM254 423h1v1h-1zM260 423h17v1h-17zM278 423h1v1h-1zM244 424h1v1h-1zM249 424h1v1h-1zM252 424h2v1h-2zM256 424h1v1h-1zM259 424h1v1h-1zM261 424h16v1h-16zM279 424h1v1h-1zM246 425h1v1h-1zM254 425h1v1h-1zM256 425h1v1h-1zM259 425h1v1h-1zM261 425h13v1h-13zM275 425h1v1h-1zM250 426h1v1h-1zM252 426h1v1h-1zM256 426h1v1h-1zM259 426h15v1h-15zM275 426h2v1h-2zM283 426h1v1h-1zM246 427h1v1h-1zM253 427h1v1h-1zM255 427h1v1h-1zM257 427h1v1h-1zM259 427h17v1h-17zM277 427h1v1h-1zM279 427h1v1h-1zM243 428h1v1h-1zM248 428h3v1h-3zM257 428h1v1h-1zM260 428h17v1h-17zM278 428h3v1h-3zM243 429h2v1h-2zM255 429h1v1h-1zM258 429h1v1h-1zM260 429h15v1h-15zM276 429h1v1h-1zM278 429h1v1h-1zM245 430h2v1h-2zM251 430h1v1h-1zM253 430h1v1h-1zM257 430h1v1h-1zM259 430h16v1h-16zM276 430h2v1h-2zM241 431h1v1h-1zM247 431h1v1h-1zM250 431h1v1h-1zM254 431h1v1h-1zM256 431h2v1h-2zM260 431h14v1h-14zM275 431h1v1h-1zM280 431h1v1h-1zM236 432h1v1h-1zM244 432h1v1h-1zM254 432h4v1h-4zM260 432h15v1h-15zM234 433h1v1h-1zM240 433h2v1h-2zM243 433h2v1h-2zM246 433h1v1h-1zM249 433h1v1h-1zM256 433h19v1h-19zM276 433h1v1h-1zM279 433h2v1h-2zM238 434h2v1h-2zM242 434h1v1h-1zM244 434h1v1h-1zM253 434h1v1h-1zM255 434h1v1h-1zM257 434h17v1h-17zM275 434h3v1h-3zM230 435h2v1h-2zM251 435h1v1h-1zM253 435h1v1h-1zM255 435h20v1h-20zM278 435h1v1h-1zM237 436h1v1h-1zM239 436h1v1h-1zM242 436h2v1h-2zM247 436h3v1h-3zM251 436h7v1h-7zM259 436h16v1h-16zM276 436h3v1h-3zM232 437h1v1h-1zM235 437h1v1h-1zM241 437h1v1h-1zM245 437h2v1h-2zM248 437h1v1h-1zM251 437h23v1h-23zM275 437h3v1h-3zM230 438h1v1h-1zM232 438h1v1h-1zM234 438h1v1h-1zM237 438h1v1h-1zM240 438h1v1h-1zM242 438h1v1h-1zM249 438h1v1h-1zM253 438h23v1h-23zM277 438h1v1h-1zM226 439h1v1h-1zM228 439h1v1h-1zM234 439h1v1h-1zM240 439h4v1h-4zM246 439h2v1h-2zM249 439h27v1h-27zM221 440h1v1h-1zM230 440h2v1h-2zM241 440h1v1h-1zM245 440h1v1h-1zM248 440h27v1h-27zM276 440h1v1h-1zM279 440h1v1h-1zM283 440h1v1h-1zM323 440h1v1h-1zM223 441h1v1h-1zM229 441h2v1h-2zM232 441h2v1h-2zM244 441h1v1h-1zM246 441h2v1h-2zM249 441h9v1h-9zM259 441h16v1h-16zM276 441h1v1h-1zM278 441h1v1h-1zM226 442h3v1h-3zM232 442h1v1h-1zM235 442h2v1h-2zM242 442h1v1h-1zM245 442h2v1h-2zM248 442h1v1h-1zM250 442h24v1h-24zM275 442h1v1h-1zM278 442h1v1h-1zM222 443h1v1h-1zM232 443h1v1h-1zM234 443h1v1h-1zM244 443h1v1h-1zM247 443h29v1h-29zM280 443h1v1h-1zM283 443h1v1h-1zM226 444h1v1h-1zM228 444h1v1h-1zM231 444h2v1h-2zM237 444h1v1h-1zM243 444h1v1h-1zM245 444h30v1h-30zM277 444h2v1h-2zM225 445h5v1h-5zM232 445h1v1h-1zM234 445h1v1h-1zM241 445h2v1h-2zM245 445h29v1h-29zM276 445h2v1h-2zM280 445h1v1h-1zM283 445h1v1h-1zM218 446h3v1h-3zM223 446h1v1h-1zM229 446h1v1h-1zM233 446h1v1h-1zM235 446h1v1h-1zM238 446h1v1h-1zM242 446h1v1h-1zM244 446h1v1h-1zM246 446h16v1h-16zM263 446h13v1h-13zM277 446h1v1h-1zM219 447h1v1h-1zM223 447h1v1h-1zM225 447h1v1h-1zM228 447h4v1h-4zM236 447h1v1h-1zM240 447h34v1h-34zM275 447h2v1h-2zM282 447h1v1h-1zM225 448h1v1h-1zM230 448h1v1h-1zM235 448h2v1h-2zM238 448h1v1h-1zM240 448h15v1h-15zM256 448h21v1h-21zM278 448h1v1h-1zM280 448h1v1h-1zM219 449h2v1h-2zM226 449h2v1h-2zM229 449h2v1h-2zM232 449h1v1h-1zM234 449h1v1h-1zM236 449h2v1h-2zM241 449h6v1h-6zM248 449h17v1h-17zM266 449h8v1h-8zM275 449h1v1h-1zM281 449h1v1h-1zM219 450h1v1h-1zM221 450h3v1h-3zM230 450h1v1h-1zM232 450h4v1h-4zM237 450h1v1h-1zM240 450h36v1h-36zM277 450h1v1h-1zM280 450h1v1h-1zM219 451h1v1h-1zM221 451h1v1h-1zM223 451h3v1h-3zM232 451h1v1h-1zM236 451h13v1h-13zM250 451h28v1h-28zM280 451h1v1h-1zM218 452h1v1h-1zM221 452h1v1h-1zM224 452h1v1h-1zM229 452h1v1h-1zM234 452h3v1h-3zM238 452h37v1h-37zM276 452h1v1h-1zM279 452h1v1h-1zM281 452h1v1h-1zM283 452h1v1h-1zM220 453h1v1h-1zM224 453h1v1h-1zM226 453h2v1h-2zM229 453h13v1h-13zM243 453h33v1h-33zM278 453h3v1h-3zM283 453h1v1h-1zM218 454h1v1h-1zM220 454h1v1h-1zM224 454h2v1h-2zM229 454h1v1h-1zM232 454h28v1h-28zM261 454h14v1h-14zM276 454h3v1h-3zM280 454h1v1h-1zM284 454h1v1h-1zM218 455h1v1h-1zM220 455h5v1h-5zM226 455h1v1h-1zM228 455h7v1h-7zM236 455h26v1h-26zM263 455h10v1h-10zM275 455h1v1h-1zM279 455h6v1h-6zM330 455h1v1h-1zM219 456h1v1h-1zM221 456h2v1h-2zM225 456h10v1h-10zM237 456h26v1h-26zM264 456h14v1h-14zM281 456h1v1h-1zM218 457h9v1h-9zM228 457h5v1h-5zM234 457h42v1h-42zM278 457h1v1h-1zM284 457h1v1h-1zM218 458h2v1h-2zM222 458h1v1h-1zM224 458h27v1h-27zM252 458h7v1h-7zM260 458h16v1h-16zM278 458h4v1h-4zM285 458h1v1h-1zM218 459h28v1h-28zM247 459h3v1h-3zM251 459h2v1h-2zM254 459h5v1h-5zM260 459h2v1h-2zM263 459h4v1h-4zM268 459h6v1h-6zM277 459h1v1h-1zM279 459h1v1h-1zM219 460h16v1h-16zM237 460h36v1h-36zM274 460h1v1h-1zM277 460h1v1h-1zM280 460h1v1h-1zM283 460h1v1h-1zM285 460h1v1h-1zM219 461h10v1h-10zM230 461h28v1h-28zM259 461h16v1h-16zM280 461h1v1h-1zM218 462h9v1h-9zM228 462h40v1h-40zM269 462h6v1h-6zM276 462h3v1h-3zM282 462h1v1h-1zM218 463h8v1h-8zM227 463h17v1h-17zM245 463h13v1h-13zM259 463h5v1h-5zM265 463h8v1h-8zM274 463h1v1h-1zM277 463h1v1h-1zM279 463h1v1h-1zM218 464h25v1h-25zM244 464h18v1h-18zM263 464h11v1h-11zM275 464h1v1h-1zM279 464h1v1h-1zM283 464h1v1h-1zM218 465h9v1h-9zM228 465h3v1h-3zM232 465h10v1h-10zM243 465h32v1h-32zM279 465h1v1h-1zM281 465h1v1h-1zM218 466h12v1h-12zM231 466h42v1h-42zM276 466h1v1h-1zM280 466h1v1h-1zM283 466h1v1h-1zM218 467h25v1h-25zM244 467h7v1h-7zM252 467h21v1h-21zM277 467h2v1h-2zM282 467h2v1h-2zM218 468h40v1h-40zM260 468h8v1h-8zM269 468h6v1h-6zM281 468h1v1h-1zM283 468h1v1h-1zM219 469h2v1h-2zM222 469h12v1h-12zM235 469h16v1h-16zM252 469h15v1h-15zM268 469h3v1h-3zM274 469h1v1h-1zM276 469h1v1h-1zM278 469h1v1h-1zM280 469h1v1h-1zM219 470h1v1h-1zM222 470h1v1h-1zM224 470h2v1h-2zM228 470h1v1h-1zM230 470h1v1h-1zM232 470h2v1h-2zM235 470h9v1h-9zM247 470h3v1h-3zM251 470h9v1h-9zM261 470h4v1h-4zM266 470h5v1h-5zM273 470h1v1h-1zM276 470h1v1h-1zM283 470h1v1h-1zM290 470h1v1h-1zM219 471h2v1h-2zM223 471h2v1h-2zM226 471h6v1h-6zM235 471h3v1h-3zM239 471h1v1h-1zM241 471h1v1h-1zM243 471h1v1h-1zM246 471h1v1h-1zM248 471h9v1h-9zM259 471h1v1h-1zM261 471h1v1h-1zM263 471h2v1h-2zM268 471h2v1h-2zM276 471h2v1h-2z" fill="#000"/>
<rect x="217.60" y="392.50" width="116.60" height="79.90" fill="none" stroke="#000" stroke-width="1.3"/>
<ellipse cx="307.2" cy="454.0" rx="23.6" ry="16.0" fill="none" stroke="#111" stroke-width="1.4" transform="rotate(0 307.2 454.0)"/>
<path d="M217.60 472.4v3.5M226.38 472.4v2.2M231.51 472.4v2.2M235.15 472.4v2.2M237.97 472.4v2.2M240.28 472.4v2.2M242.23 472.4v2.2M243.93 472.4v2.2M245.42 472.4v2.2M246.75 472.4v3.5M255.53 472.4v2.2M260.66 472.4v2.2M264.30 472.4v2.2M267.12 472.4v2.2M269.43 472.4v2.2M271.38 472.4v2.2M273.08 472.4v2.2M274.57 472.4v2.2M275.90 472.4v3.5M284.68 472.4v2.2M289.81 472.4v2.2M293.45 472.4v2.2M296.27 472.4v2.2M298.58 472.4v2.2M300.53 472.4v2.2M302.23 472.4v2.2M303.72 472.4v2.2M305.05 472.4v3.5M334.20 472.4v3.5M217.60 471.30h-4.2M217.60 469.38h-2.3M217.60 467.46h-2.3M217.60 465.54h-2.3M217.60 463.62h-2.3M217.60 461.70h-2.3M217.60 459.78h-2.3M217.60 457.86h-2.3M217.60 455.94h-4.2M217.60 454.02h-2.3M217.60 452.10h-2.3M217.60 450.18h-2.3M217.60 448.26h-2.3M217.60 446.34h-2.3M217.60 444.42h-2.3M217.60 442.50h-2.3M217.60 440.58h-4.2M217.60 438.66h-2.3M217.60 436.74h-2.3M217.60 434.82h-2.3M217.60 432.90h-2.3M217.60 430.98h-2.3M217.60 429.06h-2.3M217.60 427.14h-2.3M217.60 425.22h-4.2M217.60 423.30h-2.3M217.60 421.38h-2.3M217.60 419.46h-2.3M217.60 417.54h-2.3M217.60 415.62h-2.3M217.60 413.70h-2.3M217.60 411.78h-2.3M217.60 409.86h-4.2M217.60 407.94h-2.3M217.60 406.02h-2.3M217.60 404.10h-2.3M217.60 402.18h-2.3M217.60 400.26h-2.3M217.60 398.34h-2.3M217.60 396.42h-2.3M217.60 394.50h-4.2" stroke="#111" stroke-width="1" fill="none"/>
<path d="M438 394h1v1h-1zM441 394h1v1h-1zM443 394h2v1h-2zM446 394h6v1h-6zM455 394h6v1h-6zM462 394h1v1h-1zM437 395h1v1h-1zM439 395h1v1h-1zM441 395h1v1h-1zM443 395h19v1h-19zM450 396h1v1h-1zM452 396h2v1h-2zM455 396h1v1h-1zM457 396h1v1h-1zM460 396h1v1h-1zM475 396h1v1h-1zM442 397h1v1h-1zM447 397h1v1h-1zM449 397h1v1h-1zM451 397h1v1h-1zM457 397h2v1h-2zM462 397h2v1h-2zM449 398h3v1h-3zM454 398h1v1h-1zM456 398h1v1h-1zM458 398h2v1h-2zM461 398h1v1h-1zM463 398h1v1h-1zM465 398h1v1h-1zM444 399h1v1h-1zM450 399h3v1h-3zM454 399h2v1h-2zM457 399h1v1h-1zM459 399h1v1h-1zM462 399h1v1h-1zM445 400h1v1h-1zM447 400h1v1h-1zM451 400h3v1h-3zM455 400h1v1h-1zM459 400h3v1h-3zM495 400h1v1h-1zM498 400h1v1h-1zM439 401h1v1h-1zM446 401h2v1h-2zM449 401h1v1h-1zM451 401h1v1h-1zM454 401h1v1h-1zM457 401h7v1h-7zM444 402h1v1h-1zM447 402h4v1h-4zM453 402h1v1h-1zM459 402h3v1h-3zM472 402h1v1h-1zM499 402h1v1h-1zM439 403h2v1h-2zM443 403h2v1h-2zM447 403h1v1h-1zM449 403h3v1h-3zM455 403h2v1h-2zM458 403h5v1h-5zM500 403h1v1h-1zM445 404h1v1h-1zM447 404h1v1h-1zM449 404h1v1h-1zM452 404h1v1h-1zM455 404h3v1h-3zM459 404h1v1h-1zM461 404h2v1h-2zM478 404h1v1h-1zM438 405h1v1h-1zM440 405h1v1h-1zM442 405h4v1h-4zM447 405h2v1h-2zM450 405h2v1h-2zM453 405h2v1h-2zM456 405h1v1h-1zM458 405h1v1h-1zM461 405h1v1h-1zM469 405h1v1h-1zM443 406h3v1h-3zM449 406h3v1h-3zM453 406h1v1h-1zM455 406h3v1h-3zM459 406h2v1h-2zM485 406h1v1h-1zM491 406h1v1h-1zM387 407h1v1h-1zM437 407h2v1h-2zM443 407h1v1h-1zM446 407h3v1h-3zM450 407h1v1h-1zM452 407h4v1h-4zM457 407h2v1h-2zM462 407h1v1h-1zM496 407h1v1h-1zM440 408h1v1h-1zM447 408h1v1h-1zM449 408h1v1h-1zM454 408h1v1h-1zM456 408h1v1h-1zM458 408h1v1h-1zM461 408h1v1h-1zM463 408h1v1h-1zM436 409h2v1h-2zM443 409h1v1h-1zM446 409h3v1h-3zM450 409h1v1h-1zM456 409h2v1h-2zM459 409h1v1h-1zM403 410h1v1h-1zM438 410h1v1h-1zM440 410h1v1h-1zM443 410h4v1h-4zM448 410h2v1h-2zM451 410h2v1h-2zM454 410h1v1h-1zM456 410h1v1h-1zM460 410h3v1h-3zM465 410h1v1h-1zM467 410h1v1h-1zM471 410h1v1h-1zM492 410h1v1h-1zM437 411h2v1h-2zM440 411h2v1h-2zM446 411h1v1h-1zM448 411h5v1h-5zM454 411h4v1h-4zM459 411h2v1h-2zM462 411h2v1h-2zM434 412h1v1h-1zM437 412h3v1h-3zM441 412h2v1h-2zM444 412h5v1h-5zM450 412h7v1h-7zM458 412h1v1h-1zM460 412h3v1h-3zM476 412h1v1h-1zM495 412h1v1h-1zM499 412h1v1h-1zM432 413h1v1h-1zM440 413h1v1h-1zM442 413h1v1h-1zM445 413h3v1h-3zM452 413h5v1h-5zM460 413h1v1h-1zM462 413h3v1h-3zM486 413h1v1h-1zM436 414h3v1h-3zM440 414h1v1h-1zM446 414h3v1h-3zM450 414h4v1h-4zM455 414h1v1h-1zM457 414h1v1h-1zM461 414h1v1h-1zM491 414h1v1h-1zM400 415h1v1h-1zM407 415h1v1h-1zM435 415h1v1h-1zM437 415h1v1h-1zM442 415h1v1h-1zM446 415h2v1h-2zM449 415h7v1h-7zM458 415h3v1h-3zM462 415h1v1h-1zM480 415h1v1h-1zM495 415h1v1h-1zM439 416h1v1h-1zM447 416h9v1h-9zM462 416h1v1h-1zM394 417h1v1h-1zM440 417h1v1h-1zM446 417h13v1h-13zM462 417h3v1h-3zM478 417h1v1h-1zM426 418h1v1h-1zM429 418h1v1h-1zM446 418h16v1h-16zM463 418h1v1h-1zM487 418h1v1h-1zM489 418h1v1h-1zM436 419h2v1h-2zM440 419h1v1h-1zM442 419h1v1h-1zM444 419h1v1h-1zM447 419h10v1h-10zM459 419h3v1h-3zM432 420h1v1h-1zM438 420h1v1h-1zM443 420h17v1h-17zM480 420h1v1h-1zM483 420h1v1h-1zM500 420h1v1h-1zM430 421h1v1h-1zM432 421h1v1h-1zM438 421h1v1h-1zM442 421h1v1h-1zM444 421h16v1h-16zM462 421h1v1h-1zM441 422h18v1h-18zM460 422h1v1h-1zM463 422h1v1h-1zM432 423h1v1h-1zM435 423h2v1h-2zM441 423h1v1h-1zM443 423h15v1h-15zM461 423h1v1h-1zM468 423h1v1h-1zM477 423h1v1h-1zM428 424h1v1h-1zM442 424h17v1h-17zM460 424h2v1h-2zM427 425h1v1h-1zM431 425h1v1h-1zM439 425h1v1h-1zM441 425h1v1h-1zM443 425h16v1h-16zM461 425h1v1h-1zM489 425h1v1h-1zM431 426h1v1h-1zM437 426h1v1h-1zM439 426h22v1h-22zM430 427h1v1h-1zM432 427h1v1h-1zM434 427h1v1h-1zM439 427h20v1h-20zM462 427h1v1h-1zM471 427h1v1h-1zM489 427h1v1h-1zM432 428h4v1h-4zM441 428h22v1h-22zM484 428h1v1h-1zM429 429h3v1h-3zM437 429h1v1h-1zM440 429h18v1h-18zM459 429h2v1h-2zM477 429h1v1h-1zM425 430h3v1h-3zM429 430h2v1h-2zM433 430h1v1h-1zM439 430h20v1h-20zM460 430h1v1h-1zM476 430h1v1h-1zM432 431h1v1h-1zM437 431h24v1h-24zM464 431h1v1h-1zM469 431h1v1h-1zM482 431h1v1h-1zM425 432h1v1h-1zM431 432h1v1h-1zM435 432h1v1h-1zM438 432h20v1h-20zM459 432h1v1h-1zM420 433h1v1h-1zM423 433h1v1h-1zM427 433h1v1h-1zM431 433h1v1h-1zM434 433h1v1h-1zM437 433h21v1h-21zM459 433h1v1h-1zM477 433h1v1h-1zM483 433h1v1h-1zM432 434h1v1h-1zM436 434h21v1h-21zM459 434h1v1h-1zM462 434h2v1h-2zM480 434h1v1h-1zM493 434h1v1h-1zM398 435h1v1h-1zM407 435h1v1h-1zM421 435h1v1h-1zM423 435h2v1h-2zM428 435h1v1h-1zM433 435h1v1h-1zM435 435h1v1h-1zM437 435h21v1h-21zM460 435h1v1h-1zM475 435h1v1h-1zM498 435h1v1h-1zM419 436h2v1h-2zM426 436h1v1h-1zM430 436h3v1h-3zM434 436h1v1h-1zM436 436h23v1h-23zM460 436h1v1h-1zM499 436h1v1h-1zM418 437h2v1h-2zM422 437h1v1h-1zM424 437h1v1h-1zM430 437h1v1h-1zM433 437h24v1h-24zM459 437h2v1h-2zM463 437h1v1h-1zM423 438h1v1h-1zM425 438h1v1h-1zM427 438h1v1h-1zM432 438h27v1h-27zM420 439h1v1h-1zM426 439h1v1h-1zM429 439h2v1h-2zM433 439h2v1h-2zM436 439h21v1h-21zM459 439h1v1h-1zM420 440h1v1h-1zM428 440h1v1h-1zM431 440h26v1h-26zM459 440h1v1h-1zM412 441h1v1h-1zM415 441h1v1h-1zM417 441h1v1h-1zM424 441h1v1h-1zM426 441h1v1h-1zM428 441h2v1h-2zM431 441h26v1h-26zM458 441h1v1h-1zM460 441h2v1h-2zM470 441h1v1h-1zM477 441h1v1h-1zM411 442h1v1h-1zM417 442h2v1h-2zM420 442h2v1h-2zM424 442h1v1h-1zM427 442h2v1h-2zM430 442h8v1h-8zM439 442h19v1h-19zM464 442h1v1h-1zM489 442h1v1h-1zM387 443h1v1h-1zM415 443h1v1h-1zM419 443h2v1h-2zM422 443h1v1h-1zM424 443h1v1h-1zM426 443h14v1h-14zM441 443h3v1h-3zM445 443h9v1h-9zM455 443h3v1h-3zM459 443h1v1h-1zM479 443h1v1h-1zM491 443h2v1h-2zM411 444h1v1h-1zM413 444h1v1h-1zM416 444h1v1h-1zM422 444h1v1h-1zM425 444h1v1h-1zM427 444h9v1h-9zM437 444h20v1h-20zM458 444h2v1h-2zM409 445h1v1h-1zM420 445h2v1h-2zM424 445h1v1h-1zM426 445h2v1h-2zM429 445h27v1h-27zM458 445h1v1h-1zM460 445h1v1h-1zM412 446h1v1h-1zM419 446h1v1h-1zM422 446h1v1h-1zM424 446h1v1h-1zM426 446h7v1h-7zM434 446h9v1h-9zM444 446h1v1h-1zM446 446h9v1h-9zM457 446h2v1h-2zM460 446h1v1h-1zM497 446h1v1h-1zM406 447h1v1h-1zM408 447h1v1h-1zM423 447h2v1h-2zM426 447h8v1h-8zM435 447h12v1h-12zM448 447h7v1h-7zM456 447h1v1h-1zM458 447h3v1h-3zM467 447h1v1h-1zM403 448h2v1h-2zM408 448h1v1h-1zM418 448h4v1h-4zM423 448h34v1h-34zM459 448h1v1h-1zM463 448h1v1h-1zM491 448h2v1h-2zM399 449h1v1h-1zM407 449h1v1h-1zM413 449h3v1h-3zM418 449h1v1h-1zM420 449h3v1h-3zM424 449h7v1h-7zM432 449h24v1h-24zM457 449h1v1h-1zM459 449h1v1h-1zM403 450h1v1h-1zM405 450h1v1h-1zM409 450h1v1h-1zM417 450h1v1h-1zM419 450h39v1h-39zM477 450h2v1h-2zM399 451h1v1h-1zM413 451h3v1h-3zM417 451h2v1h-2zM420 451h1v1h-1zM423 451h26v1h-26zM450 451h4v1h-4zM455 451h1v1h-1zM457 451h1v1h-1zM461 451h1v1h-1zM397 452h1v1h-1zM410 452h1v1h-1zM413 452h3v1h-3zM417 452h38v1h-38zM456 452h1v1h-1zM458 452h1v1h-1zM461 452h1v1h-1zM387 453h1v1h-1zM390 453h1v1h-1zM398 453h2v1h-2zM401 453h1v1h-1zM404 453h1v1h-1zM407 453h1v1h-1zM409 453h1v1h-1zM412 453h1v1h-1zM414 453h12v1h-12zM427 453h7v1h-7zM435 453h20v1h-20zM457 453h1v1h-1zM460 453h3v1h-3zM392 454h1v1h-1zM400 454h1v1h-1zM402 454h2v1h-2zM405 454h3v1h-3zM409 454h1v1h-1zM411 454h3v1h-3zM415 454h7v1h-7zM423 454h3v1h-3zM428 454h8v1h-8zM437 454h3v1h-3zM441 454h17v1h-17zM460 454h1v1h-1zM483 454h1v1h-1zM388 455h1v1h-1zM390 455h2v1h-2zM393 455h3v1h-3zM397 455h4v1h-4zM402 455h1v1h-1zM405 455h1v1h-1zM408 455h2v1h-2zM411 455h19v1h-19zM431 455h24v1h-24zM460 455h1v1h-1zM389 456h2v1h-2zM392 456h1v1h-1zM394 456h2v1h-2zM397 456h1v1h-1zM399 456h1v1h-1zM403 456h14v1h-14zM418 456h5v1h-5zM424 456h22v1h-22zM447 456h9v1h-9zM460 456h1v1h-1zM463 456h1v1h-1zM494 456h1v1h-1zM387 457h1v1h-1zM389 457h1v1h-1zM392 457h1v1h-1zM394 457h2v1h-2zM398 457h2v1h-2zM401 457h56v1h-56zM458 457h1v1h-1zM465 457h1v1h-1zM387 458h1v1h-1zM389 458h5v1h-5zM396 458h6v1h-6zM403 458h14v1h-14zM418 458h11v1h-11zM430 458h7v1h-7zM438 458h13v1h-13zM452 458h8v1h-8zM387 459h2v1h-2zM390 459h3v1h-3zM394 459h4v1h-4zM399 459h34v1h-34zM434 459h4v1h-4zM439 459h12v1h-12zM452 459h4v1h-4zM457 459h2v1h-2zM460 459h1v1h-1zM463 459h1v1h-1zM477 459h1v1h-1zM386 460h1v1h-1zM388 460h1v1h-1zM390 460h15v1h-15zM406 460h22v1h-22zM430 460h6v1h-6zM437 460h6v1h-6zM444 460h1v1h-1zM446 460h13v1h-13zM464 460h1v1h-1zM482 460h1v1h-1zM386 461h2v1h-2zM389 461h15v1h-15zM405 461h1v1h-1zM407 461h10v1h-10zM418 461h35v1h-35zM454 461h1v1h-1zM458 461h1v1h-1zM462 461h1v1h-1zM481 461h1v1h-1zM386 462h9v1h-9zM396 462h28v1h-28zM425 462h20v1h-20zM446 462h9v1h-9zM386 463h12v1h-12zM399 463h15v1h-15zM415 463h40v1h-40zM457 463h2v1h-2zM475 463h1v1h-1zM386 464h3v1h-3zM390 464h38v1h-38zM430 464h12v1h-12zM443 464h2v1h-2zM447 464h9v1h-9zM462 464h1v1h-1zM386 465h31v1h-31zM418 465h19v1h-19zM438 465h17v1h-17zM457 465h1v1h-1zM461 465h1v1h-1zM493 465h1v1h-1zM387 466h38v1h-38zM427 466h14v1h-14zM442 466h3v1h-3zM447 466h9v1h-9zM459 466h2v1h-2zM470 466h2v1h-2zM386 467h13v1h-13zM400 467h2v1h-2zM403 467h6v1h-6zM410 467h2v1h-2zM413 467h44v1h-44zM458 467h3v1h-3zM387 468h24v1h-24zM412 468h2v1h-2zM415 468h6v1h-6zM422 468h24v1h-24zM447 468h8v1h-8zM456 468h3v1h-3zM386 469h2v1h-2zM389 469h6v1h-6zM396 469h1v1h-1zM398 469h25v1h-25zM424 469h3v1h-3zM428 469h15v1h-15zM444 469h8v1h-8zM453 469h4v1h-4zM458 469h2v1h-2zM461 469h2v1h-2zM464 469h1v1h-1zM500 469h1v1h-1zM386 470h1v1h-1zM388 470h6v1h-6zM395 470h14v1h-14zM411 470h5v1h-5zM417 470h34v1h-34zM452 470h1v1h-1zM455 470h2v1h-2zM458 470h1v1h-1zM387 471h1v1h-1zM389 471h4v1h-4zM394 471h4v1h-4zM399 471h3v1h-3zM403 471h2v1h-2zM406 471h1v1h-1zM408 471h3v1h-3zM412 471h2v1h-2zM415 471h1v1h-1zM417 471h3v1h-3zM421 471h11v1h-11zM433 471h3v1h-3zM437 471h7v1h-7zM445 471h1v1h-1zM447 471h8v1h-8zM459 471h1v1h-1zM461 471h2v1h-2zM387 472h1v1h-1zM391 472h3v1h-3zM395 472h3v1h-3zM402 472h1v1h-1zM406 472h5v1h-5zM412 472h3v1h-3zM416 472h4v1h-4zM422 472h3v1h-3zM427 472h1v1h-1zM431 472h6v1h-6zM438 472h9v1h-9zM448 472h1v1h-1zM450 472h4v1h-4zM461 472h1v1h-1zM463 472h2v1h-2z" fill="#000"/>
<rect x="385.80" y="393.70" width="116.70" height="79.60" fill="none" stroke="#000" stroke-width="1.3"/>
<ellipse cx="481.1" cy="451.4" rx="21.2" ry="18.7" fill="none" stroke="#111" stroke-width="1.4" transform="rotate(0 481.1 451.4)"/>
<path d="M385.80 473.3v3.5M394.58 473.3v2.2M399.72 473.3v2.2M403.37 473.3v2.2M406.19 473.3v2.2M408.50 473.3v2.2M410.46 473.3v2.2M412.15 473.3v2.2M413.64 473.3v2.2M414.98 473.3v3.5M423.76 473.3v2.2M428.90 473.3v2.2M432.54 473.3v2.2M435.37 473.3v2.2M437.68 473.3v2.2M439.63 473.3v2.2M441.32 473.3v2.2M442.82 473.3v2.2M444.15 473.3v3.5M452.93 473.3v2.2M458.07 473.3v2.2M461.72 473.3v2.2M464.54 473.3v2.2M466.85 473.3v2.2M468.81 473.3v2.2M470.50 473.3v2.2M471.99 473.3v2.2M473.32 473.3v3.5M502.50 473.3v3.5M385.80 472.50h-4.2M385.80 470.57h-2.3M385.80 468.64h-2.3M385.80 466.71h-2.3M385.80 464.78h-2.3M385.80 462.85h-2.3M385.80 460.92h-2.3M385.80 458.99h-2.3M385.80 457.06h-4.2M385.80 455.13h-2.3M385.80 453.20h-2.3M385.80 451.27h-2.3M385.80 449.34h-2.3M385.80 447.41h-2.3M385.80 445.48h-2.3M385.80 443.55h-2.3M385.80 441.62h-4.2M385.80 439.69h-2.3M385.80 437.76h-2.3M385.80 435.83h-2.3M385.80 433.90h-2.3M385.80 431.97h-2.3M385.80 430.04h-2.3M385.80 428.11h-2.3M385.80 426.18h-4.2M385.80 424.25h-2.3M385.80 422.32h-2.3M385.80 420.39h-2.3M385.80 418.46h-2.3M385.80 416.53h-2.3M385.80 414.60h-2.3M385.80 412.67h-2.3M385.80 410.74h-4.2M385.80 408.81h-2.3M385.80 406.88h-2.3M385.80 404.95h-2.3M385.80 403.02h-2.3M385.80 401.09h-2.3M385.80 399.16h-2.3M385.80 397.23h-2.3M385.80 395.30h-4.2" stroke="#111" stroke-width="1" fill="none"/>
</g>
</svg>
</body></html>
